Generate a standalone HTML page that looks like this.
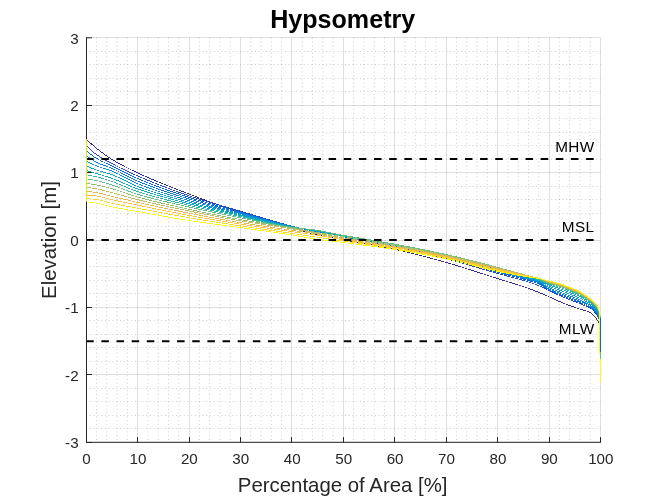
<!DOCTYPE html>
<html lang="en"><head><meta charset="utf-8"><title>Hypsometry</title>
<style>
html,body{margin:0;padding:0;background:#fff;}
body{width:663px;height:497px;overflow:hidden;position:relative;font-family:"Liberation Sans",Arial,sans-serif;}
svg{display:block}
</style></head><body>
<svg width="663" height="497" viewBox="0 0 663 497" style="position:absolute;left:0;top:0">
<rect width="663" height="497" fill="#fff"/>
<g stroke="#262626" stroke-opacity="0.22" stroke-width="1" stroke-dasharray="1 2.75" fill="none"><line x1="96.49" y1="37.70" x2="96.49" y2="442.30"/><line x1="106.77" y1="37.70" x2="106.77" y2="442.30"/><line x1="117.06" y1="37.70" x2="117.06" y2="442.30"/><line x1="127.34" y1="37.70" x2="127.34" y2="442.30"/><line x1="147.92" y1="37.70" x2="147.92" y2="442.30"/><line x1="158.20" y1="37.70" x2="158.20" y2="442.30"/><line x1="168.49" y1="37.70" x2="168.49" y2="442.30"/><line x1="178.77" y1="37.70" x2="178.77" y2="442.30"/><line x1="199.35" y1="37.70" x2="199.35" y2="442.30"/><line x1="209.63" y1="37.70" x2="209.63" y2="442.30"/><line x1="219.92" y1="37.70" x2="219.92" y2="442.30"/><line x1="230.20" y1="37.70" x2="230.20" y2="442.30"/><line x1="250.78" y1="37.70" x2="250.78" y2="442.30"/><line x1="261.06" y1="37.70" x2="261.06" y2="442.30"/><line x1="271.35" y1="37.70" x2="271.35" y2="442.30"/><line x1="281.63" y1="37.70" x2="281.63" y2="442.30"/><line x1="302.21" y1="37.70" x2="302.21" y2="442.30"/><line x1="312.49" y1="37.70" x2="312.49" y2="442.30"/><line x1="322.78" y1="37.70" x2="322.78" y2="442.30"/><line x1="333.06" y1="37.70" x2="333.06" y2="442.30"/><line x1="353.64" y1="37.70" x2="353.64" y2="442.30"/><line x1="363.92" y1="37.70" x2="363.92" y2="442.30"/><line x1="374.21" y1="37.70" x2="374.21" y2="442.30"/><line x1="384.49" y1="37.70" x2="384.49" y2="442.30"/><line x1="405.07" y1="37.70" x2="405.07" y2="442.30"/><line x1="415.35" y1="37.70" x2="415.35" y2="442.30"/><line x1="425.64" y1="37.70" x2="425.64" y2="442.30"/><line x1="435.92" y1="37.70" x2="435.92" y2="442.30"/><line x1="456.50" y1="37.70" x2="456.50" y2="442.30"/><line x1="466.78" y1="37.70" x2="466.78" y2="442.30"/><line x1="477.07" y1="37.70" x2="477.07" y2="442.30"/><line x1="487.35" y1="37.70" x2="487.35" y2="442.30"/><line x1="507.93" y1="37.70" x2="507.93" y2="442.30"/><line x1="518.21" y1="37.70" x2="518.21" y2="442.30"/><line x1="528.50" y1="37.70" x2="528.50" y2="442.30"/><line x1="538.78" y1="37.70" x2="538.78" y2="442.30"/><line x1="559.36" y1="37.70" x2="559.36" y2="442.30"/><line x1="569.64" y1="37.70" x2="569.64" y2="442.30"/><line x1="579.93" y1="37.70" x2="579.93" y2="442.30"/><line x1="590.21" y1="37.70" x2="590.21" y2="442.30"/><line x1="86.20" y1="51.50" x2="600.50" y2="51.50"/><line x1="86.20" y1="64.50" x2="600.50" y2="64.50"/><line x1="86.20" y1="78.50" x2="600.50" y2="78.50"/><line x1="86.20" y1="91.50" x2="600.50" y2="91.50"/><line x1="86.20" y1="118.50" x2="600.50" y2="118.50"/><line x1="86.20" y1="132.50" x2="600.50" y2="132.50"/><line x1="86.20" y1="145.50" x2="600.50" y2="145.50"/><line x1="86.20" y1="159.50" x2="600.50" y2="159.50"/><line x1="86.20" y1="186.50" x2="600.50" y2="186.50"/><line x1="86.20" y1="199.50" x2="600.50" y2="199.50"/><line x1="86.20" y1="213.50" x2="600.50" y2="213.50"/><line x1="86.20" y1="226.50" x2="600.50" y2="226.50"/><line x1="86.20" y1="253.50" x2="600.50" y2="253.50"/><line x1="86.20" y1="266.50" x2="600.50" y2="266.50"/><line x1="86.20" y1="280.50" x2="600.50" y2="280.50"/><line x1="86.20" y1="293.50" x2="600.50" y2="293.50"/><line x1="86.20" y1="320.50" x2="600.50" y2="320.50"/><line x1="86.20" y1="334.50" x2="600.50" y2="334.50"/><line x1="86.20" y1="347.50" x2="600.50" y2="347.50"/><line x1="86.20" y1="361.50" x2="600.50" y2="361.50"/><line x1="86.20" y1="388.50" x2="600.50" y2="388.50"/><line x1="86.20" y1="401.50" x2="600.50" y2="401.50"/><line x1="86.20" y1="415.50" x2="600.50" y2="415.50"/><line x1="86.20" y1="428.50" x2="600.50" y2="428.50"/></g>
<g stroke="#262626" stroke-opacity="0.15" stroke-width="1" fill="none"><line x1="86.50" y1="37.70" x2="86.50" y2="442.30"/><line x1="137.50" y1="37.70" x2="137.50" y2="442.30"/><line x1="189.50" y1="37.70" x2="189.50" y2="442.30"/><line x1="240.50" y1="37.70" x2="240.50" y2="442.30"/><line x1="291.50" y1="37.70" x2="291.50" y2="442.30"/><line x1="343.50" y1="37.70" x2="343.50" y2="442.30"/><line x1="394.50" y1="37.70" x2="394.50" y2="442.30"/><line x1="446.50" y1="37.70" x2="446.50" y2="442.30"/><line x1="497.50" y1="37.70" x2="497.50" y2="442.30"/><line x1="549.50" y1="37.70" x2="549.50" y2="442.30"/><line x1="600.50" y1="37.70" x2="600.50" y2="442.30"/><line x1="86.20" y1="442.50" x2="600.50" y2="442.50"/><line x1="86.20" y1="374.50" x2="600.50" y2="374.50"/><line x1="86.20" y1="307.50" x2="600.50" y2="307.50"/><line x1="86.20" y1="240.50" x2="600.50" y2="240.50"/><line x1="86.20" y1="172.50" x2="600.50" y2="172.50"/><line x1="86.20" y1="105.50" x2="600.50" y2="105.50"/><line x1="86.20" y1="37.50" x2="600.50" y2="37.50"/></g>
<g stroke="none" shape-rendering="crispEdges"><path d="M85.93 139.50 L87.93 141.30 L89.93 143.13 L91.93 144.95 L93.94 146.71 L95.95 148.37 L97.95 149.96 L99.96 151.51 L101.96 153.02 L103.97 154.49 L105.97 155.91 L107.98 157.29 L109.98 158.60 L111.99 159.86 L114.00 161.08 L116.00 162.25 L118.00 163.40 L120.01 164.51 L122.01 165.60 L124.01 166.66 L126.02 167.69 L128.02 168.71 L130.02 169.70 L132.03 170.68 L134.03 171.64 L136.03 172.59 L138.03 173.53 L140.03 174.45 L142.03 175.37 L144.04 176.27 L146.04 177.16 L148.04 178.03 L150.04 178.90 L152.04 179.76 L154.04 180.60 L156.05 181.44 L158.05 182.27 L160.05 183.09 L162.05 183.90 L164.05 184.71 L166.05 185.51 L168.05 186.30 L170.05 187.09 L172.05 187.87 L174.06 188.65 L176.06 189.43 L178.06 190.20 L180.06 190.97 L182.06 191.74 L184.06 192.51 L186.06 193.28 L188.06 194.04 L190.06 194.81 L192.06 195.57 L194.06 196.33 L196.06 197.09 L198.06 197.85 L200.06 198.60 L202.06 199.35 L204.06 200.09 L206.06 200.83 L208.06 201.57 L210.06 202.30 L212.06 203.03 L214.06 203.76 L216.06 204.48 L218.07 205.20 L220.07 205.91 L222.07 206.62 L224.07 207.32 L226.07 208.02 L228.07 208.72 L230.07 209.41 L232.07 210.09 L234.07 210.77 L236.07 211.45 L238.07 212.12 L240.07 212.78 L242.08 213.44 L244.08 214.10 L246.08 214.75 L248.08 215.39 L250.08 216.03 L252.08 216.67 L254.08 217.30 L256.08 217.93 L258.08 218.56 L260.08 219.18 L262.08 219.80 L264.08 220.41 L266.08 221.02 L268.08 221.63 L270.08 222.23 L272.09 222.83 L274.09 223.42 L276.09 224.02 L278.09 224.61 L280.09 225.20 L282.09 225.78 L284.09 226.36 L286.09 226.94 L288.09 227.52 L290.09 228.09 L292.09 228.66 L294.09 229.24 L296.09 229.81 L298.09 230.39 L300.09 230.96 L302.09 231.52 L304.09 232.08 L306.10 232.62 L308.10 233.14 L310.10 233.64 L312.11 234.12 L314.11 234.58 L316.11 235.02 L318.12 235.45 L320.12 235.87 L322.12 236.28 L324.12 236.68 L326.12 237.07 L328.13 237.45 L330.13 237.83 L332.13 238.21 L334.13 238.58 L336.13 238.95 L338.13 239.32 L340.13 239.70 L342.13 240.07 L344.13 240.45 L346.13 240.83 L348.13 241.20 L350.13 241.56 L352.13 241.92 L354.13 242.27 L356.13 242.62 L358.13 242.97 L360.13 243.32 L362.13 243.66 L364.13 244.01 L366.13 244.35 L368.13 244.70 L370.13 245.04 L372.13 245.39 L374.13 245.74 L376.13 246.10 L378.13 246.46 L380.13 246.82 L382.13 247.19 L384.13 247.57 L386.12 247.95 L388.12 248.34 L390.12 248.74 L392.12 249.15 L394.12 249.57 L396.12 250.00 L398.11 250.43 L400.11 250.88 L402.11 251.34 L404.11 251.80 L406.11 252.27 L408.11 252.75 L410.10 253.24 L412.10 253.73 L414.10 254.23 L416.10 254.74 L418.10 255.25 L420.10 255.77 L422.10 256.29 L424.10 256.82 L426.10 257.36 L428.10 257.89 L430.09 258.44 L432.09 258.98 L434.09 259.53 L436.09 260.08 L438.09 260.64 L440.09 261.20 L442.09 261.76 L444.09 262.32 L446.09 262.88 L448.09 263.45 L450.09 264.03 L452.09 264.61 L454.09 265.21 L456.08 265.81 L458.08 266.41 L460.08 267.03 L462.08 267.64 L464.08 268.27 L466.08 268.90 L468.08 269.53 L470.08 270.16 L472.08 270.80 L474.08 271.45 L476.08 272.09 L478.08 272.74 L480.08 273.38 L482.08 274.03 L484.08 274.67 L486.08 275.32 L488.08 275.97 L490.08 276.61 L492.08 277.25 L494.08 277.89 L496.08 278.53 L498.08 279.16 L500.08 279.78 L502.08 280.40 L504.08 281.02 L506.08 281.63 L508.08 282.24 L510.08 282.85 L512.08 283.46 L514.08 284.08 L516.08 284.70 L518.08 285.33 L520.08 285.97 L522.07 286.63 L524.07 287.29 L526.07 287.97 L528.07 288.67 L530.06 289.39 L532.06 290.15 L534.05 290.93 L536.05 291.73 L538.05 292.53 L540.05 293.35 L542.05 294.17 L544.04 295.00 L546.04 295.85 L548.04 296.73 L550.03 297.63 L552.02 298.62 L554.03 299.62 L556.04 300.55 L558.05 301.38 L560.05 302.16 L562.05 302.95 L564.04 303.80 L566.05 304.66 L568.06 305.45 L570.07 306.14 L572.08 306.78 L574.07 307.45 L576.06 308.19 L578.06 308.96 L580.08 309.64 L582.10 310.17 L584.10 310.66 L586.06 311.25 L588.03 312.08 L589.82 312.96 L590.22 313.16 L590.62 313.35 L591.01 313.55 L591.39 313.77 L591.76 314.02 L592.14 314.32 L592.52 314.68 L592.90 315.09 L593.29 315.55 L593.69 316.02 L594.09 316.52 L594.49 317.01 L594.89 317.49 L595.29 317.98 L595.68 318.48 L596.08 319.00 L596.47 319.55 L596.87 320.12 L597.26 320.75 L597.66 321.40 L598.07 322.02 L598.47 322.57 L598.84 323.18 L599.25 324.16 L600.07 325.40 L600.73 324.95 L599.95 323.79 L599.56 322.82 L599.13 322.12 L598.73 321.56 L598.34 320.97 L597.94 320.32 L597.53 319.68 L597.13 319.08 L596.72 318.53 L596.32 317.99 L595.91 317.48 L595.51 316.99 L595.11 316.50 L594.71 316.01 L594.31 315.52 L593.91 315.03 L593.50 314.56 L593.08 314.12 L592.66 313.72 L592.24 313.38 L591.81 313.09 L591.39 312.85 L590.98 312.64 L590.58 312.44 L590.18 312.24 L588.37 311.35 L586.34 310.49 L584.30 309.88 L582.30 309.40 L580.32 308.88 L578.34 308.21 L576.34 307.45 L574.33 306.69 L572.32 306.02 L570.33 305.38 L568.34 304.70 L566.35 303.92 L564.36 303.06 L562.35 302.21 L560.35 301.41 L558.35 300.64 L556.36 299.82 L554.37 298.90 L552.38 297.90 L550.37 296.91 L548.36 295.99 L546.36 295.12 L544.36 294.26 L542.35 293.43 L540.35 292.61 L538.35 291.79 L536.35 290.98 L534.35 290.18 L532.34 289.40 L530.34 288.64 L528.33 287.92 L526.33 287.22 L524.33 286.53 L522.33 285.87 L520.32 285.21 L518.32 284.57 L516.32 283.94 L514.32 283.31 L512.32 282.70 L510.32 282.08 L508.32 281.47 L506.32 280.86 L504.32 280.25 L502.32 279.64 L500.32 279.02 L498.32 278.39 L496.32 277.76 L494.32 277.13 L492.32 276.49 L490.32 275.85 L488.32 275.20 L486.32 274.56 L484.32 273.91 L482.32 273.27 L480.32 272.62 L478.32 271.97 L476.32 271.33 L474.32 270.68 L472.32 270.04 L470.32 269.40 L468.32 268.77 L466.32 268.13 L464.32 267.50 L462.32 266.88 L460.32 266.26 L458.32 265.65 L456.32 265.04 L454.31 264.44 L452.31 263.85 L450.31 263.26 L448.31 262.68 L446.31 262.11 L444.31 261.55 L442.31 260.99 L440.31 260.43 L438.31 259.87 L436.31 259.31 L434.31 258.76 L432.31 258.21 L430.31 257.66 L428.30 257.12 L426.30 256.58 L424.30 256.05 L422.30 255.52 L420.30 255.00 L418.30 254.48 L416.30 253.96 L414.30 253.46 L412.30 252.95 L410.30 252.46 L408.29 251.97 L406.29 251.49 L404.29 251.02 L402.29 250.56 L400.29 250.10 L398.29 249.65 L396.28 249.21 L394.28 248.79 L392.28 248.37 L390.28 247.96 L388.28 247.56 L386.28 247.17 L384.27 246.78 L382.27 246.40 L380.27 246.03 L378.27 245.67 L376.27 245.31 L374.27 244.96 L372.27 244.60 L370.27 244.26 L368.27 243.91 L366.27 243.56 L364.27 243.22 L362.27 242.88 L360.27 242.53 L358.27 242.18 L356.27 241.84 L354.27 241.49 L352.27 241.13 L350.27 240.77 L348.27 240.41 L346.27 240.04 L344.27 239.67 L342.27 239.29 L340.27 238.91 L338.27 238.54 L336.27 238.17 L334.27 237.79 L332.27 237.42 L330.27 237.05 L328.27 236.67 L326.28 236.28 L324.28 235.89 L322.28 235.50 L320.28 235.09 L318.28 234.67 L316.29 234.24 L314.29 233.80 L312.29 233.34 L310.30 232.86 L308.30 232.36 L306.30 231.84 L304.31 231.30 L302.31 230.75 L300.31 230.19 L298.31 229.62 L296.31 229.04 L294.31 228.47 L292.31 227.90 L290.31 227.32 L288.31 226.75 L286.31 226.17 L284.31 225.59 L282.31 225.01 L280.31 224.43 L278.31 223.84 L276.31 223.25 L274.31 222.66 L272.31 222.06 L270.32 221.46 L268.32 220.86 L266.32 220.25 L264.32 219.64 L262.32 219.03 L260.32 218.41 L258.32 217.79 L256.32 217.17 L254.32 216.54 L252.32 215.91 L250.32 215.27 L248.32 214.63 L246.32 213.99 L244.32 213.34 L242.32 212.68 L240.33 212.02 L238.33 211.36 L236.33 210.69 L234.33 210.02 L232.33 209.34 L230.33 208.65 L228.33 207.96 L226.33 207.27 L224.33 206.57 L222.33 205.87 L220.33 205.16 L218.33 204.45 L216.34 203.73 L214.34 203.01 L212.34 202.28 L210.34 201.55 L208.34 200.82 L206.34 200.08 L204.34 199.34 L202.34 198.60 L200.34 197.85 L198.34 197.10 L196.34 196.34 L194.34 195.59 L192.34 194.83 L190.34 194.06 L188.34 193.30 L186.34 192.53 L184.34 191.76 L182.34 191.00 L180.34 190.23 L178.34 189.46 L176.34 188.68 L174.34 187.91 L172.35 187.13 L170.35 186.35 L168.35 185.56 L166.35 184.76 L164.35 183.97 L162.35 183.16 L160.35 182.35 L158.35 181.53 L156.35 180.70 L154.36 179.86 L152.36 179.02 L150.36 178.16 L148.36 177.30 L146.36 176.42 L144.36 175.54 L142.37 174.64 L140.37 173.73 L138.37 172.80 L136.37 171.87 L134.37 170.92 L132.37 169.96 L130.38 168.98 L128.38 167.99 L126.38 166.98 L124.39 165.95 L122.39 164.89 L120.39 163.81 L118.40 162.70 L116.40 161.56 L114.40 160.39 L112.41 159.18 L110.42 157.93 L108.42 156.62 L106.43 155.26 L104.43 153.84 L102.44 152.38 L100.44 150.87 L98.45 149.33 L96.45 147.75 L94.46 146.10 L92.47 144.35 L90.47 142.54 L88.47 140.71 L86.47 138.90Z" fill="#352a87"/><path d="M85.80 139.20 L85.80 145.47 L87.92 147.47 L89.92 149.40 L91.93 151.30 L93.94 153.09 L95.96 154.67 L97.98 156.07 L99.99 157.37 L102.00 158.59 L104.00 159.75 L106.01 160.86 L108.01 161.94 L110.01 163.00 L112.01 164.06 L114.01 165.11 L116.02 166.15 L118.02 167.17 L120.02 168.18 L122.02 169.16 L124.03 170.13 L126.03 171.09 L128.03 172.03 L130.03 172.95 L132.04 173.86 L134.04 174.76 L136.04 175.64 L138.04 176.51 L140.04 177.38 L142.04 178.23 L144.04 179.08 L146.05 179.92 L148.05 180.76 L150.05 181.58 L152.05 182.40 L154.05 183.22 L156.05 184.02 L158.05 184.82 L160.05 185.61 L162.05 186.39 L164.06 187.17 L166.06 187.94 L168.06 188.70 L170.06 189.45 L172.06 190.20 L174.06 190.94 L176.06 191.67 L178.06 192.39 L180.07 193.11 L182.07 193.81 L184.07 194.51 L186.07 195.20 L188.07 195.89 L190.07 196.56 L192.07 197.23 L194.08 197.88 L196.08 198.53 L198.08 199.16 L200.08 199.79 L202.08 200.41 L204.08 201.02 L206.08 201.63 L208.09 202.22 L210.09 202.82 L212.09 203.41 L214.09 203.99 L216.09 204.58 L218.09 205.15 L220.09 205.73 L222.09 206.31 L224.09 206.88 L226.09 207.45 L228.09 208.02 L230.09 208.60 L232.09 209.17 L234.09 209.75 L236.09 210.33 L238.09 210.91 L240.09 211.50 L242.09 212.09 L244.09 212.68 L246.09 213.28 L248.09 213.88 L250.08 214.48 L252.08 215.08 L254.08 215.68 L256.08 216.29 L258.08 216.89 L260.08 217.49 L262.09 218.09 L264.09 218.69 L266.09 219.29 L268.09 219.88 L270.09 220.47 L272.09 221.06 L274.09 221.64 L276.09 222.21 L278.09 222.78 L280.09 223.35 L282.09 223.90 L284.09 224.45 L286.10 224.99 L288.10 225.52 L290.10 226.05 L292.10 226.56 L294.10 227.06 L296.10 227.56 L298.11 228.05 L300.11 228.53 L302.11 229.00 L304.11 229.46 L306.11 229.92 L308.11 230.36 L310.12 230.80 L312.12 231.23 L314.12 231.65 L316.12 232.06 L318.12 232.46 L320.12 232.86 L322.12 233.24 L324.13 233.62 L326.13 234.00 L328.13 234.37 L330.13 234.75 L332.13 235.12 L334.13 235.48 L336.13 235.85 L338.13 236.22 L340.13 236.60 L342.13 236.97 L344.13 237.35 L346.13 237.73 L348.13 238.11 L350.13 238.48 L352.13 238.86 L354.13 239.23 L356.13 239.60 L358.13 239.96 L360.13 240.33 L362.13 240.70 L364.13 241.07 L366.13 241.44 L368.13 241.81 L370.13 242.18 L372.13 242.55 L374.13 242.93 L376.13 243.30 L378.12 243.68 L380.12 244.07 L382.12 244.45 L384.12 244.84 L386.12 245.24 L388.12 245.64 L390.12 246.04 L392.12 246.45 L394.12 246.87 L396.12 247.29 L398.12 247.72 L400.12 248.15 L402.11 248.58 L404.11 249.02 L406.11 249.46 L408.11 249.91 L410.11 250.35 L412.11 250.81 L414.11 251.27 L416.11 251.73 L418.11 252.19 L420.11 252.66 L422.11 253.13 L424.11 253.61 L426.11 254.09 L428.11 254.57 L430.10 255.06 L432.10 255.55 L434.10 256.04 L436.10 256.54 L438.10 257.04 L440.10 257.55 L442.10 258.06 L444.10 258.57 L446.10 259.08 L448.10 259.61 L450.10 260.14 L452.09 260.68 L454.09 261.23 L456.09 261.78 L458.09 262.35 L460.09 262.92 L462.09 263.49 L464.09 264.07 L466.09 264.65 L468.09 265.24 L470.09 265.83 L472.09 266.42 L474.09 267.02 L476.09 267.61 L478.09 268.21 L480.09 268.80 L482.09 269.40 L484.09 269.99 L486.09 270.58 L488.09 271.17 L490.09 271.75 L492.09 272.33 L494.09 272.91 L496.09 273.48 L498.09 274.04 L500.09 274.59 L502.10 275.14 L504.10 275.67 L506.10 276.19 L508.10 276.72 L510.10 277.24 L512.10 277.76 L514.10 278.29 L516.10 278.82 L518.09 279.36 L520.09 279.92 L522.09 280.48 L524.09 281.06 L526.08 281.66 L528.08 282.29 L530.07 282.93 L532.07 283.60 L534.06 284.30 L536.06 285.04 L538.05 285.83 L540.04 286.68 L542.02 287.62 L544.02 288.63 L546.02 289.66 L548.02 290.67 L550.03 291.64 L552.03 292.60 L554.03 293.55 L556.04 294.45 L558.05 295.31 L560.05 296.13 L562.05 296.95 L564.04 297.79 L566.05 298.63 L568.05 299.45 L570.06 300.23 L572.06 300.99 L574.06 301.75 L576.06 302.51 L578.06 303.26 L580.05 304.05 L582.04 304.88 L584.04 305.75 L586.03 306.66 L588.02 307.63 L589.82 308.56 L590.22 308.76 L590.62 308.96 L591.01 309.16 L591.39 309.38 L591.77 309.63 L592.14 309.92 L592.52 310.27 L592.91 310.66 L593.30 311.09 L593.69 311.55 L594.09 312.03 L594.49 312.51 L594.89 312.99 L595.29 313.48 L595.68 313.99 L596.07 314.53 L596.46 315.10 L596.85 315.73 L597.25 316.45 L597.64 317.25 L598.04 318.09 L598.43 318.98 L598.81 320.11 L599.22 322.09 L600.07 323.35 L600.73 322.91 L599.98 321.77 L599.59 319.89 L599.17 318.69 L598.76 317.76 L598.36 316.90 L597.95 316.08 L597.55 315.33 L597.14 314.67 L596.73 314.07 L596.32 313.51 L595.91 312.98 L595.51 312.49 L595.11 312.00 L594.71 311.52 L594.31 311.04 L593.90 310.56 L593.49 310.11 L593.08 309.69 L592.66 309.31 L592.23 308.97 L591.81 308.70 L591.39 308.46 L590.98 308.25 L590.58 308.05 L590.18 307.84 L588.38 306.91 L586.37 305.93 L584.36 305.02 L582.36 304.14 L580.35 303.31 L578.34 302.52 L576.34 301.76 L574.34 301.00 L572.34 300.24 L570.34 299.48 L568.35 298.71 L566.35 297.90 L564.36 297.06 L562.35 296.21 L560.35 295.39 L558.35 294.57 L556.36 293.72 L554.37 292.82 L552.37 291.88 L550.37 290.92 L548.38 289.96 L546.38 288.94 L544.38 287.91 L542.38 286.90 L540.36 285.95 L538.35 285.09 L536.34 284.30 L534.34 283.55 L532.33 282.85 L530.33 282.17 L528.32 281.52 L526.32 280.90 L524.31 280.30 L522.31 279.71 L520.31 279.14 L518.31 278.59 L516.30 278.05 L514.30 277.51 L512.30 276.99 L510.30 276.46 L508.30 275.94 L506.30 275.42 L504.30 274.89 L502.30 274.36 L500.31 273.82 L498.31 273.27 L496.31 272.71 L494.31 272.14 L492.31 271.56 L490.31 270.99 L488.31 270.40 L486.31 269.81 L484.31 269.22 L482.31 268.63 L480.31 268.04 L478.31 267.44 L476.31 266.85 L474.31 266.25 L472.31 265.66 L470.31 265.06 L468.31 264.47 L466.31 263.89 L464.31 263.30 L462.31 262.72 L460.31 262.15 L458.31 261.58 L456.31 261.01 L454.31 260.46 L452.31 259.91 L450.30 259.37 L448.30 258.83 L446.30 258.31 L444.30 257.79 L442.30 257.28 L440.30 256.77 L438.30 256.27 L436.30 255.76 L434.30 255.27 L432.30 254.77 L430.30 254.28 L428.29 253.79 L426.29 253.31 L424.29 252.83 L422.29 252.35 L420.29 251.88 L418.29 251.41 L416.29 250.95 L414.29 250.49 L412.29 250.03 L410.29 249.57 L408.29 249.12 L406.29 248.68 L404.29 248.24 L402.29 247.80 L400.28 247.36 L398.28 246.93 L396.28 246.51 L394.28 246.09 L392.28 245.67 L390.28 245.26 L388.28 244.85 L386.28 244.45 L384.28 244.06 L382.28 243.67 L380.28 243.28 L378.28 242.90 L376.27 242.52 L374.27 242.14 L372.27 241.76 L370.27 241.39 L368.27 241.02 L366.27 240.65 L364.27 240.28 L362.27 239.91 L360.27 239.55 L358.27 239.18 L356.27 238.81 L354.27 238.44 L352.27 238.07 L350.27 237.70 L348.27 237.32 L346.27 236.95 L344.27 236.57 L342.27 236.19 L340.27 235.81 L338.27 235.44 L336.27 235.07 L334.27 234.70 L332.27 234.33 L330.27 233.96 L328.27 233.59 L326.27 233.22 L324.27 232.84 L322.28 232.46 L320.28 232.07 L318.28 231.68 L316.28 231.28 L314.28 230.87 L312.28 230.45 L310.28 230.02 L308.29 229.58 L306.29 229.14 L304.29 228.68 L302.29 228.22 L300.29 227.75 L298.29 227.27 L296.30 226.78 L294.30 226.29 L292.30 225.78 L290.30 225.27 L288.30 224.75 L286.30 224.22 L284.31 223.68 L282.31 223.13 L280.31 222.57 L278.31 222.01 L276.31 221.44 L274.31 220.87 L272.31 220.29 L270.31 219.70 L268.31 219.11 L266.31 218.52 L264.31 217.93 L262.31 217.33 L260.32 216.73 L258.32 216.12 L256.32 215.52 L254.32 214.92 L252.32 214.32 L250.32 213.71 L248.31 213.11 L246.31 212.51 L244.31 211.92 L242.31 211.32 L240.31 210.73 L238.31 210.14 L236.31 209.56 L234.31 208.98 L232.31 208.40 L230.31 207.83 L228.31 207.26 L226.31 206.68 L224.31 206.11 L222.31 205.54 L220.31 204.96 L218.31 204.39 L216.31 203.81 L214.31 203.23 L212.31 202.64 L210.31 202.05 L208.31 201.46 L206.32 200.86 L204.32 200.25 L202.32 199.64 L200.32 199.02 L198.32 198.40 L196.32 197.76 L194.32 197.12 L192.33 196.47 L190.33 195.80 L188.33 195.13 L186.33 194.45 L184.33 193.76 L182.33 193.06 L180.33 192.35 L178.34 191.64 L176.34 190.92 L174.34 190.19 L172.34 189.45 L170.34 188.71 L168.34 187.95 L166.34 187.19 L164.34 186.42 L162.35 185.65 L160.35 184.87 L158.35 184.08 L156.35 183.28 L154.35 182.47 L152.35 181.66 L150.35 180.84 L148.35 180.02 L146.35 179.18 L144.36 178.34 L142.36 177.50 L140.36 176.64 L138.36 175.78 L136.36 174.91 L134.36 174.03 L132.36 173.13 L130.37 172.22 L128.37 171.30 L126.37 170.36 L124.37 169.41 L122.38 168.44 L120.38 167.46 L118.38 166.46 L116.38 165.44 L114.39 164.41 L112.39 163.35 L110.39 162.29 L108.39 161.23 L106.39 160.16 L104.40 159.05 L102.40 157.90 L100.41 156.69 L98.42 155.40 L96.44 154.02 L94.46 152.48 L92.47 150.71 L90.48 148.82 L88.48 146.89 L86.60 145.13 L86.60 139.20Z" fill="#2f47c0"/><path d="M85.80 139.20 L85.80 151.10 L87.96 152.73 L89.96 154.29 L91.96 155.82 L93.98 157.27 L95.99 158.56 L98.01 159.71 L100.02 160.77 L102.03 161.77 L104.03 162.72 L106.03 163.65 L108.03 164.57 L110.03 165.50 L112.02 166.46 L114.02 167.45 L116.02 168.45 L118.02 169.46 L120.02 170.48 L122.02 171.49 L124.02 172.51 L126.02 173.51 L128.02 174.50 L130.03 175.47 L132.03 176.43 L134.03 177.35 L136.04 178.25 L138.04 179.11 L140.05 179.95 L142.05 180.79 L144.05 181.61 L146.05 182.42 L148.05 183.23 L150.05 184.02 L152.05 184.80 L154.06 185.58 L156.06 186.34 L158.06 187.10 L160.06 187.85 L162.06 188.58 L164.06 189.32 L166.06 190.04 L168.07 190.75 L170.07 191.46 L172.07 192.16 L174.07 192.85 L176.07 193.53 L178.07 194.21 L180.07 194.88 L182.07 195.55 L184.08 196.21 L186.08 196.86 L188.08 197.50 L190.08 198.14 L192.08 198.77 L194.08 199.40 L196.08 200.01 L198.09 200.61 L200.09 201.20 L202.09 201.79 L204.09 202.37 L206.09 202.94 L208.09 203.51 L210.09 204.07 L212.09 204.63 L214.09 205.19 L216.09 205.74 L218.09 206.29 L220.09 206.83 L222.10 207.38 L224.10 207.92 L226.10 208.46 L228.10 209.01 L230.09 209.55 L232.09 210.10 L234.09 210.64 L236.09 211.19 L238.09 211.75 L240.09 212.30 L242.09 212.87 L244.09 213.43 L246.09 214.00 L248.09 214.57 L250.09 215.14 L252.09 215.71 L254.09 216.29 L256.09 216.86 L258.09 217.43 L260.09 218.01 L262.09 218.58 L264.09 219.15 L266.09 219.72 L268.09 220.28 L270.09 220.85 L272.09 221.40 L274.09 221.96 L276.09 222.51 L278.10 223.05 L280.10 223.59 L282.10 224.12 L284.10 224.64 L286.10 225.16 L288.10 225.67 L290.10 226.17 L292.11 226.66 L294.11 227.14 L296.11 227.61 L298.11 228.08 L300.11 228.53 L302.11 228.98 L304.11 229.42 L306.12 229.86 L308.12 230.29 L310.12 230.71 L312.12 231.13 L314.12 231.54 L316.12 231.95 L318.12 232.35 L320.12 232.74 L322.12 233.13 L324.13 233.51 L326.13 233.89 L328.13 234.27 L330.13 234.64 L332.13 235.01 L334.13 235.38 L336.13 235.76 L338.13 236.13 L340.13 236.50 L342.13 236.88 L344.13 237.25 L346.13 237.63 L348.13 238.00 L350.13 238.37 L352.13 238.74 L354.13 239.10 L356.13 239.47 L358.13 239.83 L360.13 240.19 L362.13 240.55 L364.13 240.91 L366.13 241.27 L368.13 241.63 L370.13 242.00 L372.13 242.36 L374.13 242.73 L376.13 243.10 L378.13 243.47 L380.13 243.84 L382.13 244.22 L384.12 244.60 L386.12 244.98 L388.12 245.37 L390.12 245.77 L392.12 246.17 L394.12 246.57 L396.12 246.98 L398.12 247.40 L400.12 247.82 L402.12 248.24 L404.12 248.66 L406.12 249.09 L408.12 249.52 L410.11 249.96 L412.11 250.39 L414.11 250.84 L416.11 251.28 L418.11 251.73 L420.11 252.18 L422.11 252.64 L424.11 253.10 L426.11 253.56 L428.11 254.03 L430.11 254.50 L432.11 254.97 L434.11 255.45 L436.11 255.93 L438.11 256.41 L440.10 256.90 L442.10 257.39 L444.10 257.89 L446.10 258.39 L448.10 258.89 L450.10 259.40 L452.10 259.93 L454.10 260.45 L456.10 260.99 L458.09 261.53 L460.09 262.08 L462.09 262.64 L464.09 263.20 L466.09 263.76 L468.09 264.33 L470.09 264.89 L472.09 265.47 L474.09 266.04 L476.09 266.61 L478.09 267.19 L480.09 267.76 L482.09 268.34 L484.09 268.91 L486.09 269.48 L488.09 270.05 L490.09 270.62 L492.09 271.18 L494.09 271.74 L496.09 272.29 L498.10 272.84 L500.10 273.38 L502.10 273.91 L504.10 274.44 L506.10 274.96 L508.10 275.48 L510.10 276.00 L512.10 276.52 L514.10 277.04 L516.10 277.57 L518.10 278.10 L520.10 278.64 L522.09 279.18 L524.09 279.74 L526.09 280.31 L528.09 280.90 L530.09 281.48 L532.09 282.06 L534.08 282.66 L536.07 283.31 L538.05 284.04 L540.02 284.91 L542.00 286.00 L543.99 287.23 L545.99 288.49 L548.01 289.68 L550.02 290.72 L552.04 291.65 L554.04 292.53 L556.05 293.38 L558.05 294.21 L560.05 295.01 L562.05 295.81 L564.05 296.64 L566.05 297.47 L568.05 298.28 L570.06 299.05 L572.06 299.81 L574.06 300.58 L576.06 301.34 L578.05 302.10 L580.04 302.92 L582.04 303.78 L584.03 304.70 L586.02 305.66 L588.01 306.68 L589.81 307.65 L590.21 307.86 L590.61 308.07 L591.00 308.29 L591.39 308.51 L591.76 308.77 L592.14 309.07 L592.52 309.41 L592.91 309.80 L593.30 310.22 L593.70 310.67 L594.10 311.14 L594.49 311.61 L594.89 312.08 L595.29 312.56 L595.68 313.07 L596.07 313.60 L596.47 314.17 L596.86 314.79 L597.25 315.49 L597.64 316.27 L598.03 317.13 L598.42 318.06 L598.81 319.25 L599.22 321.36 L600.07 322.63 L600.73 322.18 L599.98 321.05 L599.59 319.05 L599.18 317.78 L598.77 316.81 L598.36 315.93 L597.95 315.12 L597.54 314.38 L597.13 313.73 L596.73 313.13 L596.32 312.58 L595.91 312.06 L595.51 311.57 L595.11 311.09 L594.70 310.62 L594.30 310.15 L593.90 309.69 L593.49 309.25 L593.08 308.83 L592.66 308.46 L592.24 308.12 L591.81 307.84 L591.40 307.59 L590.99 307.37 L590.59 307.16 L590.19 306.95 L588.39 305.97 L586.38 304.94 L584.37 303.98 L582.36 303.05 L580.36 302.18 L578.35 301.36 L576.34 300.59 L574.34 299.83 L572.34 299.06 L570.34 298.30 L568.35 297.53 L566.35 296.73 L564.35 295.90 L562.35 295.07 L560.35 294.27 L558.35 293.47 L556.35 292.64 L554.36 291.79 L552.36 290.92 L550.38 290.00 L548.39 288.98 L546.41 287.81 L544.41 286.55 L542.40 285.31 L540.38 284.19 L538.35 283.29 L536.33 282.55 L534.32 281.89 L532.31 281.29 L530.31 280.71 L528.31 280.13 L526.31 279.54 L524.31 278.97 L522.31 278.41 L520.30 277.86 L518.30 277.33 L516.30 276.79 L514.30 276.27 L512.30 275.74 L510.30 275.22 L508.30 274.71 L506.30 274.19 L504.30 273.66 L502.30 273.14 L500.30 272.61 L498.30 272.07 L496.31 271.52 L494.31 270.97 L492.31 270.41 L490.31 269.85 L488.31 269.28 L486.31 268.71 L484.31 268.14 L482.31 267.57 L480.31 267.00 L478.31 266.42 L476.31 265.85 L474.31 265.27 L472.31 264.70 L470.31 264.13 L468.31 263.56 L466.31 262.99 L464.31 262.43 L462.31 261.87 L460.31 261.31 L458.31 260.76 L456.30 260.22 L454.30 259.68 L452.30 259.15 L450.30 258.63 L448.30 258.11 L446.30 257.61 L444.30 257.11 L442.30 256.62 L440.30 256.12 L438.29 255.64 L436.29 255.15 L434.29 254.67 L432.29 254.19 L430.29 253.72 L428.29 253.25 L426.29 252.78 L424.29 252.32 L422.29 251.86 L420.29 251.40 L418.29 250.95 L416.29 250.50 L414.29 250.05 L412.29 249.61 L410.29 249.17 L408.28 248.74 L406.28 248.31 L404.28 247.88 L402.28 247.45 L400.28 247.03 L398.28 246.61 L396.28 246.20 L394.28 245.79 L392.28 245.38 L390.28 244.98 L388.28 244.59 L386.28 244.20 L384.28 243.81 L382.27 243.43 L380.27 243.05 L378.27 242.68 L376.27 242.31 L374.27 241.94 L372.27 241.57 L370.27 241.21 L368.27 240.85 L366.27 240.48 L364.27 240.12 L362.27 239.76 L360.27 239.40 L358.27 239.04 L356.27 238.68 L354.27 238.31 L352.27 237.95 L350.27 237.58 L348.27 237.21 L346.27 236.84 L344.27 236.47 L342.27 236.09 L340.27 235.71 L338.27 235.34 L336.27 234.97 L334.27 234.60 L332.27 234.23 L330.27 233.85 L328.27 233.48 L326.27 233.10 L324.27 232.72 L322.28 232.34 L320.28 231.95 L318.28 231.56 L316.28 231.16 L314.28 230.76 L312.28 230.35 L310.28 229.93 L308.28 229.51 L306.28 229.08 L304.29 228.64 L302.29 228.20 L300.29 227.75 L298.29 227.30 L296.29 226.83 L294.29 226.36 L292.29 225.88 L290.30 225.39 L288.30 224.89 L286.30 224.38 L284.30 223.87 L282.30 223.34 L280.30 222.81 L278.30 222.28 L276.31 221.73 L274.31 221.19 L272.31 220.63 L270.31 220.07 L268.31 219.51 L266.31 218.95 L264.31 218.38 L262.31 217.81 L260.31 217.24 L258.31 216.67 L256.31 216.09 L254.31 215.52 L252.31 214.94 L250.31 214.37 L248.31 213.80 L246.31 213.23 L244.31 212.66 L242.31 212.10 L240.31 211.53 L238.31 210.98 L236.31 210.42 L234.31 209.87 L232.31 209.32 L230.31 208.78 L228.30 208.23 L226.30 207.69 L224.30 207.15 L222.30 206.60 L220.31 206.06 L218.31 205.51 L216.31 204.97 L214.31 204.42 L212.31 203.86 L210.31 203.30 L208.31 202.74 L206.31 202.17 L204.31 201.60 L202.31 201.02 L200.31 200.44 L198.31 199.84 L196.32 199.24 L194.32 198.63 L192.32 198.01 L190.32 197.38 L188.32 196.74 L186.32 196.10 L184.32 195.45 L182.33 194.79 L180.33 194.12 L178.33 193.45 L176.33 192.78 L174.33 192.09 L172.33 191.40 L170.33 190.70 L168.33 190.00 L166.34 189.28 L164.34 188.56 L162.34 187.83 L160.34 187.10 L158.34 186.35 L156.34 185.59 L154.34 184.83 L152.35 184.06 L150.35 183.28 L148.35 182.48 L146.35 181.68 L144.35 180.87 L142.35 180.05 L140.35 179.22 L138.36 178.37 L136.36 177.52 L134.37 176.62 L132.37 175.70 L130.37 174.75 L128.38 173.78 L126.38 172.79 L124.38 171.79 L122.38 170.78 L120.38 169.77 L118.38 168.75 L116.38 167.74 L114.38 166.73 L112.38 165.74 L110.37 164.77 L108.37 163.84 L106.37 162.92 L104.37 162.00 L102.37 161.05 L100.38 160.06 L98.39 159.01 L96.41 157.88 L94.42 156.61 L92.44 155.18 L90.44 153.65 L88.44 152.10 L86.60 150.70 L86.60 139.20Z" fill="#0268e1"/><path d="M85.80 139.20 L85.80 155.91 L87.97 157.38 L89.97 158.79 L91.98 160.17 L94.00 161.45 L96.02 162.56 L98.04 163.50 L100.05 164.34 L102.06 165.11 L104.07 165.83 L106.07 166.54 L108.06 167.26 L110.05 168.02 L112.04 168.85 L114.03 169.76 L116.02 170.71 L118.02 171.70 L120.02 172.73 L122.01 173.78 L124.01 174.83 L126.01 175.89 L128.02 176.95 L130.02 177.98 L132.02 178.98 L134.03 179.94 L136.04 180.85 L138.05 181.71 L140.05 182.53 L142.05 183.34 L144.05 184.14 L146.06 184.92 L148.06 185.69 L150.06 186.45 L152.06 187.19 L154.06 187.93 L156.06 188.65 L158.07 189.36 L160.07 190.07 L162.07 190.76 L164.07 191.45 L166.07 192.12 L168.07 192.79 L170.08 193.45 L172.08 194.10 L174.08 194.75 L176.08 195.39 L178.08 196.02 L180.08 196.65 L182.08 197.27 L184.08 197.89 L186.08 198.51 L188.08 199.12 L190.08 199.73 L192.09 200.33 L194.09 200.92 L196.09 201.50 L198.09 202.07 L200.09 202.64 L202.09 203.20 L204.09 203.75 L206.10 204.30 L208.10 204.84 L210.10 205.37 L212.10 205.91 L214.10 206.44 L216.10 206.96 L218.10 207.48 L220.10 208.00 L222.10 208.52 L224.10 209.04 L226.10 209.56 L228.10 210.08 L230.10 210.59 L232.10 211.11 L234.10 211.63 L236.10 212.16 L238.10 212.68 L240.10 213.21 L242.10 213.74 L244.10 214.28 L246.10 214.81 L248.10 215.35 L250.10 215.89 L252.10 216.43 L254.10 216.97 L256.10 217.51 L258.10 218.05 L260.10 218.59 L262.10 219.13 L264.10 219.67 L266.10 220.20 L268.10 220.73 L270.10 221.26 L272.10 221.79 L274.10 222.31 L276.10 222.83 L278.10 223.34 L280.10 223.85 L282.10 224.35 L284.10 224.84 L286.11 225.33 L288.11 225.81 L290.11 226.29 L292.11 226.75 L294.11 227.21 L296.11 227.66 L298.11 228.10 L300.12 228.54 L302.12 228.96 L304.12 229.39 L306.12 229.80 L308.12 230.22 L310.12 230.63 L312.12 231.03 L314.12 231.44 L316.12 231.84 L318.12 232.23 L320.12 232.62 L322.12 233.01 L324.12 233.39 L326.13 233.78 L328.13 234.16 L330.13 234.53 L332.13 234.91 L334.13 235.28 L336.13 235.66 L338.13 236.03 L340.13 236.40 L342.13 236.78 L344.13 237.15 L346.13 237.52 L348.13 237.89 L350.13 238.26 L352.13 238.62 L354.13 238.98 L356.13 239.33 L358.13 239.69 L360.13 240.05 L362.13 240.40 L364.13 240.75 L366.13 241.11 L368.13 241.46 L370.13 241.82 L372.13 242.17 L374.13 242.53 L376.13 242.89 L378.13 243.25 L380.13 243.62 L382.13 243.98 L384.13 244.36 L386.13 244.73 L388.12 245.11 L390.12 245.49 L392.12 245.88 L394.12 246.28 L396.12 246.68 L398.12 247.08 L400.12 247.48 L402.12 247.89 L404.12 248.30 L406.12 248.72 L408.12 249.13 L410.12 249.55 L412.12 249.97 L414.12 250.40 L416.12 250.83 L418.12 251.26 L420.11 251.70 L422.11 252.13 L424.11 252.58 L426.11 253.02 L428.11 253.47 L430.11 253.93 L432.11 254.38 L434.11 254.84 L436.11 255.31 L438.11 255.77 L440.11 256.25 L442.11 256.72 L444.11 257.20 L446.11 257.69 L448.10 258.18 L450.10 258.68 L452.10 259.18 L454.10 259.70 L456.10 260.22 L458.10 260.75 L460.10 261.28 L462.10 261.82 L464.09 262.37 L466.09 262.92 L468.09 263.47 L470.09 264.03 L472.09 264.59 L474.09 265.15 L476.09 265.71 L478.09 266.27 L480.09 266.84 L482.09 267.40 L484.09 267.96 L486.09 268.53 L488.09 269.09 L490.09 269.64 L492.09 270.20 L494.09 270.75 L496.09 271.30 L498.10 271.84 L500.10 272.37 L502.10 272.90 L504.10 273.43 L506.10 273.96 L508.10 274.48 L510.10 275.00 L512.10 275.53 L514.10 276.05 L516.10 276.58 L518.10 277.11 L520.10 277.65 L522.09 278.20 L524.09 278.76 L526.09 279.32 L528.09 279.90 L530.09 280.47 L532.09 281.03 L534.08 281.60 L536.07 282.23 L538.05 282.94 L540.02 283.81 L541.99 284.94 L543.98 286.21 L545.99 287.52 L548.01 288.75 L550.03 289.77 L552.04 290.66 L554.05 291.49 L556.05 292.30 L558.05 293.10 L560.05 293.88 L562.05 294.66 L564.05 295.47 L566.05 296.29 L568.05 297.09 L570.06 297.86 L572.06 298.62 L574.06 299.39 L576.06 300.16 L578.05 300.94 L580.04 301.77 L582.03 302.67 L584.02 303.64 L586.02 304.65 L588.01 305.72 L589.80 306.73 L590.21 306.96 L590.60 307.18 L591.00 307.40 L591.38 307.64 L591.76 307.90 L592.14 308.20 L592.53 308.55 L592.91 308.93 L593.31 309.34 L593.70 309.78 L594.10 310.23 L594.50 310.69 L594.89 311.16 L595.29 311.63 L595.68 312.13 L596.08 312.66 L596.47 313.22 L596.86 313.84 L597.25 314.52 L597.64 315.29 L598.03 316.16 L598.42 317.13 L598.81 318.39 L599.22 320.62 L600.07 321.89 L600.73 321.45 L599.98 320.32 L599.59 318.20 L599.18 316.87 L598.77 315.85 L598.36 314.95 L597.95 314.14 L597.54 313.43 L597.13 312.78 L596.72 312.19 L596.32 311.64 L595.91 311.13 L595.51 310.64 L595.10 310.17 L594.70 309.71 L594.30 309.25 L593.89 308.80 L593.49 308.37 L593.07 307.97 L592.66 307.59 L592.24 307.26 L591.82 306.97 L591.40 306.71 L591.00 306.48 L590.59 306.26 L590.20 306.04 L588.39 305.02 L586.38 303.95 L584.38 302.93 L582.37 301.95 L580.36 301.03 L578.35 300.19 L576.34 299.41 L574.34 298.64 L572.34 297.87 L570.34 297.11 L568.35 296.34 L566.35 295.55 L564.35 294.73 L562.35 293.92 L560.35 293.13 L558.35 292.35 L556.35 291.56 L554.35 290.75 L552.36 289.92 L550.37 289.05 L548.39 288.05 L546.41 286.84 L544.42 285.54 L542.41 284.25 L540.38 283.10 L538.35 282.20 L536.33 281.47 L534.32 280.84 L532.31 280.26 L530.31 279.70 L528.31 279.13 L526.31 278.55 L524.31 277.99 L522.31 277.43 L520.30 276.88 L518.30 276.34 L516.30 275.81 L514.30 275.28 L512.30 274.75 L510.30 274.23 L508.30 273.71 L506.30 273.18 L504.30 272.66 L502.30 272.13 L500.30 271.60 L498.30 271.06 L496.31 270.52 L494.31 269.98 L492.31 269.43 L490.31 268.87 L488.31 268.32 L486.31 267.76 L484.31 267.19 L482.31 266.63 L480.31 266.07 L478.31 265.50 L476.31 264.94 L474.31 264.38 L472.31 263.82 L470.31 263.26 L468.31 262.70 L466.31 262.15 L464.31 261.60 L462.30 261.05 L460.30 260.51 L458.30 259.98 L456.30 259.45 L454.30 258.92 L452.30 258.41 L450.30 257.90 L448.30 257.40 L446.29 256.91 L444.29 256.42 L442.29 255.94 L440.29 255.47 L438.29 255.00 L436.29 254.53 L434.29 254.06 L432.29 253.60 L430.29 253.15 L428.29 252.69 L426.29 252.24 L424.29 251.80 L422.29 251.35 L420.29 250.91 L418.28 250.48 L416.28 250.05 L414.28 249.62 L412.28 249.19 L410.28 248.77 L408.28 248.35 L406.28 247.93 L404.28 247.52 L402.28 247.11 L400.28 246.70 L398.28 246.29 L396.28 245.89 L394.28 245.49 L392.28 245.10 L390.28 244.71 L388.28 244.32 L386.27 243.94 L384.27 243.57 L382.27 243.20 L380.27 242.83 L378.27 242.46 L376.27 242.10 L374.27 241.74 L372.27 241.38 L370.27 241.03 L368.27 240.67 L366.27 240.32 L364.27 239.97 L362.27 239.61 L360.27 239.26 L358.27 238.90 L356.27 238.55 L354.27 238.19 L352.27 237.83 L350.27 237.47 L348.27 237.10 L346.27 236.74 L344.27 236.37 L342.27 235.99 L340.27 235.62 L338.27 235.24 L336.27 234.87 L334.27 234.50 L332.27 234.12 L330.27 233.75 L328.27 233.37 L326.27 232.99 L324.28 232.61 L322.28 232.22 L320.28 231.84 L318.28 231.45 L316.28 231.05 L314.28 230.65 L312.28 230.25 L310.28 229.84 L308.28 229.43 L306.28 229.02 L304.28 228.60 L302.28 228.18 L300.28 227.75 L298.29 227.32 L296.29 226.88 L294.29 226.43 L292.29 225.98 L290.29 225.51 L288.29 225.04 L286.29 224.55 L284.30 224.07 L282.30 223.57 L280.30 223.07 L278.30 222.56 L276.30 222.05 L274.30 221.53 L272.30 221.01 L270.30 220.49 L268.30 219.96 L266.30 219.43 L264.30 218.89 L262.30 218.36 L260.30 217.82 L258.30 217.28 L256.30 216.74 L254.30 216.20 L252.30 215.66 L250.30 215.12 L248.30 214.58 L246.30 214.04 L244.30 213.50 L242.30 212.97 L240.30 212.44 L238.30 211.91 L236.30 211.38 L234.30 210.86 L232.30 210.34 L230.30 209.82 L228.30 209.30 L226.30 208.78 L224.30 208.27 L222.30 207.75 L220.30 207.23 L218.30 206.71 L216.30 206.19 L214.30 205.66 L212.30 205.13 L210.30 204.60 L208.30 204.07 L206.30 203.52 L204.31 202.98 L202.31 202.43 L200.31 201.87 L198.31 201.30 L196.31 200.73 L194.31 200.15 L192.31 199.56 L190.32 198.96 L188.32 198.36 L186.32 197.74 L184.32 197.13 L182.32 196.51 L180.32 195.89 L178.32 195.26 L176.32 194.63 L174.32 193.99 L172.32 193.34 L170.32 192.69 L168.33 192.03 L166.33 191.36 L164.33 190.69 L162.33 190.00 L160.33 189.31 L158.33 188.61 L156.34 187.90 L154.34 187.17 L152.34 186.44 L150.34 185.70 L148.34 184.94 L146.34 184.17 L144.35 183.39 L142.35 182.60 L140.35 181.79 L138.35 180.97 L136.36 180.12 L134.37 179.22 L132.38 178.26 L130.38 177.26 L128.38 176.24 L126.39 175.19 L124.39 174.13 L122.39 173.07 L120.38 172.02 L118.38 170.99 L116.38 169.99 L114.37 169.03 L112.36 168.12 L110.35 167.28 L108.34 166.51 L106.33 165.79 L104.33 165.08 L102.34 164.36 L100.35 163.59 L98.36 162.77 L96.38 161.84 L94.40 160.76 L92.42 159.50 L90.43 158.13 L88.43 156.73 L86.60 155.49 L86.60 139.20Z" fill="#117bd9"/><path d="M85.80 139.20 L85.80 161.25 L88.02 162.34 L90.02 163.35 L92.03 164.35 L94.04 165.30 L96.05 166.15 L98.06 166.91 L100.07 167.60 L102.08 168.24 L104.08 168.86 L106.08 169.48 L108.07 170.12 L110.06 170.80 L112.05 171.55 L114.04 172.38 L116.03 173.29 L118.02 174.26 L120.02 175.28 L122.01 176.33 L124.01 177.40 L126.01 178.47 L128.01 179.54 L130.02 180.59 L132.02 181.60 L134.03 182.57 L136.04 183.47 L138.05 184.30 L140.05 185.09 L142.06 185.87 L144.06 186.63 L146.06 187.38 L148.06 188.11 L150.07 188.83 L152.07 189.54 L154.07 190.23 L156.07 190.92 L158.07 191.59 L160.08 192.25 L162.08 192.90 L164.08 193.54 L166.08 194.17 L168.08 194.80 L170.08 195.42 L172.08 196.03 L174.08 196.63 L176.09 197.23 L178.09 197.82 L180.09 198.41 L182.09 199.00 L184.09 199.58 L186.09 200.16 L188.09 200.74 L190.09 201.31 L192.09 201.88 L194.09 202.44 L196.09 202.99 L198.10 203.53 L200.10 204.07 L202.10 204.60 L204.10 205.13 L206.10 205.65 L208.10 206.16 L210.10 206.67 L212.10 207.18 L214.10 207.68 L216.10 208.18 L218.10 208.68 L220.10 209.17 L222.10 209.66 L224.10 210.16 L226.10 210.65 L228.10 211.14 L230.10 211.63 L232.10 212.12 L234.10 212.62 L236.10 213.12 L238.10 213.61 L240.10 214.11 L242.10 214.62 L244.10 215.13 L246.10 215.64 L248.10 216.15 L250.10 216.66 L252.10 217.18 L254.10 217.70 L256.10 218.21 L258.10 218.73 L260.10 219.24 L262.10 219.76 L264.10 220.27 L266.10 220.78 L268.10 221.29 L270.10 221.79 L272.10 222.29 L274.10 222.78 L276.11 223.27 L278.11 223.76 L280.11 224.24 L282.11 224.71 L284.11 225.17 L286.11 225.63 L288.11 226.08 L290.11 226.52 L292.12 226.95 L294.12 227.37 L296.12 227.78 L298.12 228.17 L300.12 228.56 L302.13 228.95 L304.13 229.32 L306.13 229.70 L308.13 230.08 L310.13 230.45 L312.12 230.84 L314.12 231.22 L316.12 231.61 L318.12 232.00 L320.12 232.38 L322.12 232.77 L324.12 233.16 L326.12 233.54 L328.12 233.93 L330.12 234.31 L332.12 234.69 L334.13 235.07 L336.13 235.45 L338.13 235.83 L340.13 236.21 L342.13 236.58 L344.13 236.95 L346.13 237.32 L348.13 237.68 L350.13 238.04 L352.13 238.40 L354.13 238.75 L356.13 239.10 L358.13 239.45 L360.13 239.80 L362.13 240.15 L364.13 240.49 L366.13 240.84 L368.13 241.18 L370.13 241.53 L372.13 241.88 L374.13 242.23 L376.13 242.58 L378.13 242.93 L380.13 243.29 L382.13 243.64 L384.13 244.01 L386.13 244.37 L388.13 244.74 L390.13 245.12 L392.12 245.50 L394.12 245.88 L396.12 246.27 L398.12 246.66 L400.12 247.06 L402.12 247.45 L404.12 247.85 L406.12 248.26 L408.12 248.66 L410.12 249.07 L412.12 249.48 L414.12 249.89 L416.12 250.31 L418.12 250.73 L420.12 251.15 L422.12 251.58 L424.12 252.01 L426.11 252.44 L428.11 252.88 L430.11 253.32 L432.11 253.76 L434.11 254.21 L436.11 254.66 L438.11 255.12 L440.11 255.58 L442.11 256.04 L444.11 256.51 L446.11 256.99 L448.11 257.47 L450.10 257.96 L452.10 258.45 L454.10 258.96 L456.10 259.47 L458.10 259.99 L460.10 260.51 L462.10 261.04 L464.10 261.57 L466.10 262.11 L468.09 262.66 L470.09 263.20 L472.09 263.75 L474.09 264.31 L476.09 264.86 L478.09 265.41 L480.09 265.97 L482.09 266.53 L484.09 267.09 L486.09 267.64 L488.09 268.20 L490.09 268.75 L492.09 269.30 L494.09 269.85 L496.10 270.40 L498.10 270.94 L500.10 271.48 L502.10 272.01 L504.10 272.55 L506.10 273.08 L508.10 273.61 L510.10 274.15 L512.10 274.68 L514.10 275.22 L516.10 275.76 L518.09 276.30 L520.09 276.85 L522.09 277.40 L524.09 277.96 L526.09 278.53 L528.09 279.10 L530.09 279.66 L532.09 280.20 L534.09 280.76 L536.08 281.36 L538.06 282.05 L540.02 282.89 L542.00 283.97 L543.99 285.20 L545.99 286.45 L548.01 287.62 L550.04 288.58 L552.05 289.42 L554.06 290.19 L556.06 290.95 L558.06 291.72 L560.06 292.47 L562.05 293.24 L564.05 294.03 L566.05 294.82 L568.06 295.61 L570.06 296.38 L572.06 297.14 L574.06 297.91 L576.05 298.69 L578.05 299.48 L580.03 300.34 L582.02 301.30 L584.01 302.33 L586.01 303.41 L588.00 304.53 L589.80 305.60 L590.20 305.83 L590.60 306.07 L590.99 306.30 L591.38 306.55 L591.76 306.82 L592.14 307.13 L592.53 307.48 L592.92 307.85 L593.31 308.25 L593.71 308.67 L594.10 309.11 L594.50 309.56 L594.90 310.01 L595.29 310.48 L595.68 310.97 L596.08 311.49 L596.47 312.05 L596.86 312.66 L597.25 313.32 L597.64 314.08 L598.03 314.95 L598.42 315.98 L598.81 317.33 L599.22 319.71 L600.07 320.98 L600.73 320.54 L599.98 319.41 L599.59 317.15 L599.18 315.73 L598.77 314.65 L598.36 313.73 L597.95 312.93 L597.54 312.24 L597.13 311.60 L596.72 311.02 L596.32 310.48 L595.91 309.97 L595.50 309.49 L595.10 309.03 L594.70 308.57 L594.29 308.13 L593.89 307.70 L593.48 307.28 L593.07 306.89 L592.66 306.52 L592.24 306.19 L591.82 305.89 L591.41 305.62 L591.00 305.38 L590.60 305.14 L590.20 304.91 L588.40 303.84 L586.39 302.70 L584.39 301.62 L582.38 300.58 L580.37 299.61 L578.35 298.74 L576.35 297.95 L574.34 297.17 L572.34 296.39 L570.34 295.63 L568.34 294.87 L566.35 294.08 L564.35 293.28 L562.35 292.49 L560.34 291.72 L558.34 290.97 L556.34 290.20 L554.34 289.44 L552.35 288.67 L550.36 287.85 L548.39 286.91 L546.41 285.76 L544.41 284.52 L542.40 283.28 L540.38 282.17 L538.34 281.30 L536.32 280.60 L534.31 279.99 L532.31 279.43 L530.31 278.89 L528.31 278.33 L526.31 277.76 L524.31 277.19 L522.31 276.63 L520.31 276.08 L518.31 275.53 L516.30 274.99 L514.30 274.45 L512.30 273.91 L510.30 273.38 L508.30 272.84 L506.30 272.31 L504.30 271.77 L502.30 271.24 L500.30 270.70 L498.30 270.17 L496.30 269.62 L494.31 269.08 L492.31 268.53 L490.31 267.98 L488.31 267.43 L486.31 266.87 L484.31 266.31 L482.31 265.76 L480.31 265.20 L478.31 264.64 L476.31 264.09 L474.31 263.53 L472.31 262.98 L470.31 262.43 L468.31 261.89 L466.30 261.34 L464.30 260.80 L462.30 260.27 L460.30 259.74 L458.30 259.21 L456.30 258.69 L454.30 258.18 L452.30 257.68 L450.30 257.18 L448.29 256.69 L446.29 256.21 L444.29 255.73 L442.29 255.26 L440.29 254.80 L438.29 254.34 L436.29 253.88 L434.29 253.43 L432.29 252.98 L430.29 252.54 L428.29 252.10 L426.29 251.66 L424.28 251.22 L422.28 250.79 L420.28 250.37 L418.28 249.95 L416.28 249.53 L414.28 249.11 L412.28 248.69 L410.28 248.28 L408.28 247.88 L406.28 247.47 L404.28 247.07 L402.28 246.67 L400.28 246.27 L398.28 245.88 L396.28 245.48 L394.28 245.09 L392.28 244.71 L390.27 244.33 L388.27 243.95 L386.27 243.58 L384.27 243.22 L382.27 242.86 L380.27 242.50 L378.27 242.14 L376.27 241.79 L374.27 241.44 L372.27 241.09 L370.27 240.74 L368.27 240.40 L366.27 240.05 L364.27 239.70 L362.27 239.36 L360.27 239.01 L358.27 238.66 L356.27 238.31 L354.27 237.96 L352.27 237.61 L350.27 237.25 L348.27 236.89 L346.27 236.53 L344.27 236.16 L342.27 235.79 L340.27 235.42 L338.27 235.04 L336.27 234.67 L334.27 234.29 L332.28 233.91 L330.28 233.52 L328.28 233.14 L326.28 232.76 L324.28 232.37 L322.28 231.98 L320.28 231.60 L318.28 231.21 L316.28 230.82 L314.28 230.44 L312.28 230.05 L310.27 229.67 L308.27 229.29 L306.27 228.91 L304.27 228.54 L302.27 228.16 L300.28 227.78 L298.28 227.39 L296.28 226.99 L294.28 226.59 L292.28 226.17 L290.29 225.74 L288.29 225.30 L286.29 224.85 L284.29 224.39 L282.29 223.93 L280.29 223.46 L278.29 222.98 L276.29 222.50 L274.30 222.01 L272.30 221.51 L270.30 221.01 L268.30 220.51 L266.30 220.00 L264.30 219.49 L262.30 218.98 L260.30 218.47 L258.30 217.95 L256.30 217.44 L254.30 216.92 L252.30 216.41 L250.30 215.89 L248.30 215.38 L246.30 214.86 L244.30 214.35 L242.30 213.84 L240.30 213.34 L238.30 212.84 L236.30 212.34 L234.30 211.84 L232.30 211.35 L230.30 210.86 L228.30 210.36 L226.30 209.87 L224.30 209.38 L222.30 208.89 L220.30 208.39 L218.30 207.90 L216.30 207.40 L214.30 206.90 L212.30 206.40 L210.30 205.89 L208.30 205.39 L206.30 204.87 L204.30 204.35 L202.30 203.83 L200.30 203.30 L198.30 202.76 L196.31 202.22 L194.31 201.67 L192.31 201.11 L190.31 200.54 L188.31 199.97 L186.31 199.39 L184.31 198.81 L182.31 198.23 L180.31 197.64 L178.31 197.06 L176.31 196.46 L174.32 195.86 L172.32 195.26 L170.32 194.65 L168.32 194.03 L166.32 193.41 L164.32 192.78 L162.32 192.14 L160.32 191.49 L158.33 190.83 L156.33 190.16 L154.33 189.48 L152.33 188.79 L150.33 188.08 L148.34 187.36 L146.34 186.63 L144.34 185.89 L142.34 185.12 L140.35 184.35 L138.35 183.56 L136.36 182.74 L134.37 181.84 L132.38 180.88 L130.38 179.88 L128.39 178.83 L126.39 177.77 L124.39 176.69 L122.39 175.62 L120.38 174.57 L118.38 173.55 L116.37 172.57 L114.36 171.65 L112.35 170.81 L110.34 170.05 L108.33 169.36 L106.32 168.71 L104.32 168.09 L102.32 167.48 L100.33 166.84 L98.34 166.16 L96.35 165.41 L94.36 164.56 L92.37 163.63 L90.38 162.64 L88.38 161.63 L86.60 160.75 L86.60 139.20Z" fill="#108ed2"/><path d="M85.80 139.20 L85.80 166.06 L88.04 167.02 L90.04 167.90 L92.04 168.77 L94.05 169.60 L96.07 170.35 L98.08 171.01 L100.09 171.62 L102.09 172.19 L104.09 172.73 L106.09 173.28 L108.09 173.85 L110.08 174.47 L112.06 175.15 L114.05 175.91 L116.04 176.75 L118.03 177.65 L120.03 178.60 L122.02 179.58 L124.02 180.59 L126.02 181.60 L128.02 182.61 L130.03 183.60 L132.03 184.56 L134.04 185.46 L136.05 186.31 L138.06 187.09 L140.06 187.83 L142.07 188.55 L144.07 189.26 L146.07 189.95 L148.07 190.63 L150.07 191.30 L152.08 191.96 L154.08 192.60 L156.08 193.23 L158.08 193.85 L160.08 194.47 L162.09 195.07 L164.09 195.66 L166.09 196.25 L168.09 196.83 L170.09 197.40 L172.09 197.96 L174.09 198.52 L176.09 199.08 L178.09 199.63 L180.09 200.18 L182.09 200.73 L184.10 201.27 L186.10 201.81 L188.10 202.35 L190.10 202.89 L192.10 203.43 L194.10 203.95 L196.10 204.47 L198.10 204.98 L200.10 205.49 L202.10 205.99 L204.10 206.49 L206.11 206.98 L208.11 207.47 L210.11 207.95 L212.11 208.43 L214.11 208.91 L216.11 209.38 L218.11 209.85 L220.11 210.32 L222.11 210.79 L224.11 211.26 L226.11 211.72 L228.11 212.19 L230.11 212.66 L232.11 213.13 L234.11 213.60 L236.11 214.07 L238.11 214.54 L240.11 215.02 L242.11 215.50 L244.11 215.98 L246.10 216.47 L248.10 216.97 L250.10 217.46 L252.10 217.96 L254.10 218.46 L256.10 218.95 L258.10 219.45 L260.10 219.95 L262.10 220.45 L264.10 220.94 L266.10 221.43 L268.11 221.92 L270.11 222.41 L272.11 222.88 L274.11 223.36 L276.11 223.82 L278.11 224.28 L280.11 224.74 L282.11 225.18 L284.12 225.61 L286.12 226.04 L288.12 226.45 L290.12 226.86 L292.12 227.25 L294.13 227.62 L296.13 227.98 L298.13 228.32 L300.13 228.66 L302.14 228.98 L304.14 229.31 L306.14 229.63 L308.13 229.96 L310.13 230.30 L312.13 230.64 L314.13 231.00 L316.13 231.36 L318.13 231.73 L320.13 232.11 L322.13 232.48 L324.13 232.86 L326.12 233.24 L328.12 233.63 L330.12 234.01 L332.12 234.40 L334.13 234.78 L336.13 235.16 L338.13 235.54 L340.13 235.91 L342.13 236.28 L344.13 236.65 L346.13 237.01 L348.13 237.37 L350.13 237.72 L352.13 238.08 L354.13 238.43 L356.13 238.77 L358.13 239.12 L360.13 239.46 L362.13 239.81 L364.13 240.15 L366.13 240.49 L368.13 240.84 L370.13 241.18 L372.13 241.52 L374.13 241.87 L376.13 242.22 L378.13 242.57 L380.13 242.92 L382.13 243.27 L384.13 243.63 L386.13 243.99 L388.13 244.36 L390.13 244.73 L392.13 245.10 L394.12 245.48 L396.12 245.87 L398.12 246.25 L400.12 246.64 L402.12 247.03 L404.12 247.42 L406.12 247.82 L408.12 248.22 L410.12 248.62 L412.12 249.02 L414.12 249.43 L416.12 249.84 L418.12 250.25 L420.12 250.66 L422.12 251.08 L424.12 251.50 L426.12 251.93 L428.12 252.36 L430.12 252.79 L432.11 253.23 L434.11 253.67 L436.11 254.11 L438.11 254.56 L440.11 255.01 L442.11 255.46 L444.11 255.92 L446.11 256.39 L448.11 256.86 L450.11 257.34 L452.11 257.82 L454.10 258.31 L456.10 258.81 L458.10 259.31 L460.10 259.82 L462.10 260.34 L464.10 260.86 L466.10 261.38 L468.10 261.91 L470.10 262.44 L472.10 262.98 L474.10 263.52 L476.10 264.06 L478.10 264.60 L480.09 265.14 L482.09 265.69 L484.09 266.23 L486.09 266.78 L488.09 267.32 L490.09 267.87 L492.10 268.41 L494.10 268.96 L496.10 269.50 L498.10 270.04 L500.10 270.58 L502.10 271.12 L504.10 271.66 L506.10 272.20 L508.09 272.74 L510.09 273.29 L512.09 273.84 L514.09 274.39 L516.09 274.94 L518.09 275.49 L520.09 276.05 L522.09 276.61 L524.09 277.17 L526.09 277.73 L528.09 278.30 L530.10 278.86 L532.10 279.39 L534.09 279.93 L536.08 280.51 L538.06 281.16 L540.04 281.96 L542.01 282.95 L544.00 284.07 L546.01 285.21 L548.03 286.27 L550.05 287.15 L552.06 287.91 L554.07 288.62 L556.06 289.33 L558.06 290.05 L560.06 290.78 L562.06 291.52 L564.06 292.28 L566.06 293.06 L568.06 293.84 L570.06 294.60 L572.06 295.36 L574.05 296.14 L576.05 296.93 L578.04 297.73 L580.03 298.62 L582.01 299.64 L584.00 300.75 L586.00 301.90 L587.99 303.10 L589.79 304.23 L590.19 304.48 L590.59 304.73 L590.98 304.98 L591.37 305.24 L591.75 305.53 L592.14 305.84 L592.53 306.19 L592.92 306.55 L593.32 306.93 L593.71 307.34 L594.11 307.76 L594.50 308.19 L594.90 308.63 L595.29 309.09 L595.69 309.57 L596.08 310.09 L596.47 310.64 L596.86 311.23 L597.25 311.87 L597.64 312.61 L598.03 313.50 L598.42 314.59 L598.81 316.04 L599.22 318.61 L600.07 319.88 L600.73 319.44 L599.98 318.31 L599.59 315.88 L599.18 314.35 L598.77 313.20 L598.36 312.27 L597.95 311.48 L597.54 310.80 L597.13 310.19 L596.72 309.61 L596.31 309.08 L595.91 308.58 L595.50 308.11 L595.10 307.65 L594.69 307.21 L594.29 306.78 L593.88 306.37 L593.48 305.97 L593.07 305.59 L592.66 305.23 L592.25 304.90 L591.83 304.59 L591.42 304.31 L591.01 304.05 L590.61 303.80 L590.21 303.55 L588.41 302.42 L586.40 301.21 L584.40 300.05 L582.39 298.93 L580.37 297.90 L578.36 297.00 L576.35 296.18 L574.35 295.39 L572.34 294.61 L570.34 293.85 L568.34 293.09 L566.34 292.32 L564.34 291.54 L562.34 290.77 L560.34 290.03 L558.34 289.30 L556.34 288.58 L554.33 287.86 L552.34 287.16 L550.35 286.41 L548.37 285.55 L546.39 284.51 L544.40 283.37 L542.39 282.25 L540.36 281.23 L538.34 280.41 L536.32 279.75 L534.31 279.16 L532.30 278.61 L530.30 278.08 L528.31 277.53 L526.31 276.96 L524.31 276.40 L522.31 275.84 L520.31 275.28 L518.31 274.72 L516.31 274.17 L514.31 273.62 L512.31 273.07 L510.31 272.52 L508.31 271.97 L506.30 271.43 L504.30 270.89 L502.30 270.34 L500.30 269.80 L498.30 269.26 L496.30 268.73 L494.30 268.18 L492.30 267.64 L490.31 267.10 L488.31 266.55 L486.31 266.01 L484.31 265.46 L482.31 264.91 L480.31 264.37 L478.30 263.83 L476.30 263.28 L474.30 262.74 L472.30 262.21 L470.30 261.67 L468.30 261.14 L466.30 260.61 L464.30 260.09 L462.30 259.57 L460.30 259.05 L458.30 258.54 L456.30 258.03 L454.30 257.54 L452.29 257.04 L450.29 256.56 L448.29 256.08 L446.29 255.61 L444.29 255.14 L442.29 254.68 L440.29 254.23 L438.29 253.78 L436.29 253.33 L434.29 252.88 L432.29 252.44 L430.28 252.01 L428.28 251.58 L426.28 251.15 L424.28 250.72 L422.28 250.30 L420.28 249.88 L418.28 249.47 L416.28 249.05 L414.28 248.64 L412.28 248.24 L410.28 247.83 L408.28 247.43 L406.28 247.04 L404.28 246.64 L402.28 246.25 L400.28 245.86 L398.28 245.47 L396.28 245.08 L394.28 244.70 L392.27 244.32 L390.27 243.94 L388.27 243.57 L386.27 243.21 L384.27 242.84 L382.27 242.49 L380.27 242.13 L378.27 241.78 L376.27 241.43 L374.27 241.08 L372.27 240.74 L370.27 240.39 L368.27 240.05 L366.27 239.70 L364.27 239.36 L362.27 239.02 L360.27 238.68 L358.27 238.33 L356.27 237.99 L354.27 237.64 L352.27 237.29 L350.27 236.94 L348.27 236.58 L346.27 236.22 L344.27 235.86 L342.27 235.50 L340.27 235.13 L338.27 234.75 L336.27 234.37 L334.27 233.99 L332.28 233.61 L330.28 233.23 L328.28 232.84 L326.28 232.46 L324.27 232.08 L322.27 231.70 L320.27 231.32 L318.27 230.95 L316.27 230.58 L314.27 230.21 L312.27 229.85 L310.27 229.51 L308.27 229.17 L306.26 228.84 L304.26 228.52 L302.26 228.19 L300.27 227.87 L298.27 227.53 L296.27 227.19 L294.27 226.83 L292.28 226.46 L290.28 226.07 L288.28 225.67 L286.28 225.26 L284.28 224.83 L282.29 224.40 L280.29 223.96 L278.29 223.50 L276.29 223.04 L274.29 222.58 L272.29 222.11 L270.29 221.63 L268.29 221.14 L266.30 220.66 L264.30 220.17 L262.30 219.67 L260.30 219.17 L258.30 218.68 L256.30 218.18 L254.30 217.68 L252.30 217.18 L250.30 216.68 L248.30 216.19 L246.30 215.70 L244.29 215.21 L242.29 214.72 L240.29 214.24 L238.29 213.77 L236.29 213.29 L234.29 212.82 L232.29 212.35 L230.29 211.88 L228.29 211.41 L226.29 210.95 L224.29 210.48 L222.29 210.01 L220.29 209.54 L218.29 209.07 L216.29 208.60 L214.29 208.13 L212.29 207.65 L210.29 207.17 L208.29 206.69 L206.29 206.20 L204.30 205.71 L202.30 205.22 L200.30 204.72 L198.30 204.21 L196.30 203.70 L194.30 203.18 L192.30 202.65 L190.30 202.12 L188.30 201.58 L186.30 201.04 L184.30 200.50 L182.31 199.95 L180.31 199.41 L178.31 198.86 L176.31 198.31 L174.31 197.75 L172.31 197.19 L170.31 196.63 L168.31 196.06 L166.31 195.48 L164.31 194.89 L162.31 194.30 L160.32 193.70 L158.32 193.09 L156.32 192.47 L154.32 191.84 L152.32 191.20 L150.33 190.54 L148.33 189.88 L146.33 189.20 L144.33 188.51 L142.33 187.80 L140.34 187.08 L138.34 186.34 L136.35 185.57 L134.36 184.73 L132.37 183.83 L130.37 182.88 L128.38 181.89 L126.38 180.89 L124.38 179.87 L122.38 178.86 L120.37 177.88 L118.37 176.92 L116.36 176.01 L114.35 175.17 L112.34 174.40 L110.32 173.71 L108.31 173.09 L106.31 172.51 L104.31 171.96 L102.31 171.42 L100.31 170.85 L98.32 170.25 L96.33 169.59 L94.35 168.85 L92.36 168.03 L90.36 167.17 L88.36 166.29 L86.60 165.54 L86.60 139.20Z" fill="#06a2cb"/><path d="M85.80 139.20 L85.80 170.80 L88.09 171.47 L90.09 172.06 L92.09 172.65 L94.09 173.24 L96.08 173.84 L98.09 174.45 L100.09 175.04 L102.08 175.64 L104.08 176.25 L106.08 176.87 L108.08 177.50 L110.07 178.16 L112.07 178.85 L114.06 179.58 L116.05 180.36 L118.05 181.17 L120.04 182.02 L122.04 182.88 L124.04 183.76 L126.04 184.64 L128.04 185.51 L130.04 186.37 L132.05 187.21 L134.06 188.01 L136.06 188.77 L138.07 189.47 L140.07 190.16 L142.07 190.83 L144.08 191.49 L146.08 192.14 L148.08 192.78 L150.08 193.41 L152.08 194.02 L154.08 194.63 L156.09 195.23 L158.09 195.83 L160.09 196.41 L162.09 196.99 L164.09 197.56 L166.09 198.12 L168.09 198.67 L170.09 199.22 L172.10 199.77 L174.10 200.31 L176.10 200.84 L178.10 201.37 L180.10 201.90 L182.10 202.42 L184.10 202.94 L186.10 203.45 L188.10 203.97 L190.10 204.48 L192.10 204.98 L194.10 205.48 L196.11 205.97 L198.11 206.46 L200.11 206.93 L202.11 207.41 L204.11 207.88 L206.11 208.34 L208.11 208.80 L210.11 209.26 L212.11 209.71 L214.11 210.16 L216.11 210.61 L218.11 211.05 L220.11 211.49 L222.11 211.94 L224.11 212.38 L226.11 212.82 L228.11 213.26 L230.11 213.70 L232.11 214.14 L234.11 214.58 L236.11 215.03 L238.11 215.48 L240.11 215.92 L242.11 216.38 L244.11 216.84 L246.11 217.30 L248.11 217.77 L250.11 218.24 L252.11 218.72 L254.11 219.19 L256.11 219.67 L258.11 220.15 L260.11 220.62 L262.11 221.10 L264.11 221.57 L266.11 222.04 L268.11 222.50 L270.11 222.96 L272.11 223.42 L274.11 223.86 L276.12 224.30 L278.12 224.73 L280.12 225.16 L282.12 225.57 L284.12 225.97 L286.13 226.36 L288.13 226.73 L290.13 227.09 L292.13 227.44 L294.14 227.77 L296.14 228.08 L298.14 228.37 L300.15 228.64 L302.15 228.92 L304.15 229.19 L306.14 229.46 L308.14 229.74 L310.14 230.04 L312.14 230.35 L314.13 230.68 L316.13 231.02 L318.13 231.38 L320.13 231.74 L322.13 232.12 L324.12 232.50 L326.12 232.88 L328.12 233.27 L330.12 233.67 L332.12 234.06 L334.12 234.45 L336.12 234.84 L338.12 235.23 L340.13 235.61 L342.13 235.98 L344.13 236.35 L346.13 236.71 L348.13 237.06 L350.13 237.42 L352.13 237.77 L354.13 238.11 L356.13 238.46 L358.13 238.80 L360.13 239.14 L362.13 239.48 L364.13 239.82 L366.13 240.16 L368.13 240.50 L370.13 240.84 L372.13 241.18 L374.13 241.52 L376.13 241.86 L378.13 242.21 L380.13 242.56 L382.13 242.91 L384.13 243.26 L386.13 243.62 L388.13 243.98 L390.13 244.34 L392.13 244.71 L394.13 245.08 L396.13 245.46 L398.13 245.84 L400.12 246.23 L402.12 246.61 L404.12 247.00 L406.12 247.38 L408.12 247.77 L410.12 248.17 L412.12 248.56 L414.12 248.96 L416.12 249.36 L418.12 249.77 L420.12 250.17 L422.12 250.58 L424.12 251.00 L426.12 251.41 L428.12 251.83 L430.12 252.26 L432.12 252.68 L434.12 253.12 L436.11 253.55 L438.11 253.99 L440.11 254.43 L442.11 254.88 L444.11 255.33 L446.11 255.79 L448.11 256.25 L450.11 256.72 L452.11 257.19 L454.11 257.68 L456.10 258.17 L458.10 258.66 L460.10 259.16 L462.10 259.66 L464.10 260.17 L466.10 260.69 L468.10 261.21 L470.10 261.73 L472.10 262.25 L474.10 262.78 L476.10 263.31 L478.10 263.85 L480.10 264.38 L482.10 264.92 L484.10 265.46 L486.10 266.00 L488.10 266.54 L490.10 267.08 L492.10 267.62 L494.10 268.16 L496.10 268.70 L498.10 269.24 L500.10 269.78 L502.09 270.32 L504.09 270.87 L506.09 271.43 L508.09 271.98 L510.09 272.54 L512.09 273.10 L514.09 273.66 L516.09 274.22 L518.09 274.78 L520.09 275.35 L522.09 275.91 L524.09 276.48 L526.09 277.04 L528.09 277.60 L530.10 278.15 L532.10 278.67 L534.10 279.19 L536.09 279.75 L538.07 280.38 L540.05 281.12 L542.03 282.03 L544.02 283.04 L546.02 284.07 L548.04 285.03 L550.06 285.83 L552.07 286.53 L554.08 287.17 L556.07 287.84 L558.07 288.52 L560.07 289.22 L562.06 289.93 L564.06 290.67 L566.06 291.44 L568.06 292.20 L570.06 292.96 L572.06 293.72 L574.05 294.50 L576.05 295.30 L578.04 296.12 L580.02 297.04 L582.00 298.11 L583.99 299.29 L585.99 300.51 L587.98 301.78 L589.78 302.97 L590.18 303.23 L590.58 303.49 L590.97 303.76 L591.36 304.04 L591.75 304.34 L592.14 304.66 L592.54 304.99 L592.93 305.35 L593.32 305.72 L593.72 306.11 L594.11 306.51 L594.51 306.93 L594.90 307.36 L595.30 307.81 L595.69 308.29 L596.08 308.79 L596.47 309.34 L596.86 309.92 L597.25 310.54 L597.64 311.26 L598.03 312.16 L598.42 313.31 L598.81 314.86 L599.22 317.60 L600.07 318.87 L600.73 318.43 L599.98 317.30 L599.59 314.70 L599.18 313.09 L598.77 311.87 L598.36 310.91 L597.95 310.14 L597.54 309.48 L597.13 308.88 L596.72 308.31 L596.31 307.79 L595.90 307.29 L595.50 306.83 L595.09 306.38 L594.69 305.96 L594.28 305.54 L593.88 305.14 L593.47 304.76 L593.06 304.39 L592.66 304.04 L592.25 303.71 L591.84 303.39 L591.43 303.10 L591.02 302.83 L590.62 302.56 L590.22 302.30 L588.42 301.11 L586.41 299.84 L584.41 298.60 L582.40 297.41 L580.38 296.32 L578.36 295.39 L576.35 294.56 L574.35 293.76 L572.34 292.97 L570.34 292.21 L568.34 291.45 L566.34 290.69 L564.34 289.92 L562.34 289.18 L560.33 288.46 L558.33 287.77 L556.33 287.08 L554.32 286.41 L552.33 285.77 L550.34 285.08 L548.36 284.29 L546.38 283.35 L544.38 282.33 L542.37 281.31 L540.35 280.38 L538.33 279.62 L536.31 278.99 L534.30 278.42 L532.30 277.90 L530.30 277.38 L528.31 276.83 L526.31 276.27 L524.31 275.71 L522.31 275.14 L520.31 274.58 L518.31 274.01 L516.31 273.45 L514.31 272.89 L512.31 272.33 L510.31 271.77 L508.31 271.21 L506.31 270.65 L504.31 270.10 L502.31 269.55 L500.30 269.01 L498.30 268.46 L496.30 267.93 L494.30 267.39 L492.30 266.85 L490.30 266.31 L488.30 265.77 L486.30 265.22 L484.30 264.69 L482.30 264.15 L480.30 263.61 L478.30 263.07 L476.30 262.54 L474.30 262.01 L472.30 261.48 L470.30 260.95 L468.30 260.43 L466.30 259.91 L464.30 259.40 L462.30 258.89 L460.30 258.38 L458.30 257.88 L456.30 257.39 L454.29 256.90 L452.29 256.42 L450.29 255.94 L448.29 255.47 L446.29 255.01 L444.29 254.55 L442.29 254.10 L440.29 253.65 L438.29 253.21 L436.29 252.77 L434.28 252.33 L432.28 251.90 L430.28 251.47 L428.28 251.05 L426.28 250.63 L424.28 250.21 L422.28 249.80 L420.28 249.39 L418.28 248.98 L416.28 248.58 L414.28 248.18 L412.28 247.78 L410.28 247.38 L408.28 246.99 L406.28 246.60 L404.28 246.21 L402.28 245.82 L400.28 245.44 L398.27 245.06 L396.27 244.68 L394.27 244.30 L392.27 243.92 L390.27 243.55 L388.27 243.19 L386.27 242.83 L384.27 242.47 L382.27 242.12 L380.27 241.77 L378.27 241.42 L376.27 241.08 L374.27 240.73 L372.27 240.39 L370.27 240.05 L368.27 239.71 L366.27 239.37 L364.27 239.03 L362.27 238.69 L360.27 238.35 L358.27 238.01 L356.27 237.67 L354.27 237.32 L352.27 236.98 L350.27 236.63 L348.27 236.28 L346.27 235.92 L344.27 235.56 L342.27 235.20 L340.27 234.82 L338.28 234.44 L336.28 234.06 L334.28 233.67 L332.28 233.28 L330.28 232.88 L328.28 232.49 L326.28 232.10 L324.28 231.71 L322.27 231.33 L320.27 230.96 L318.27 230.59 L316.27 230.23 L314.27 229.89 L312.26 229.56 L310.26 229.25 L308.26 228.95 L306.26 228.67 L304.25 228.39 L302.25 228.12 L300.25 227.85 L298.26 227.57 L296.26 227.28 L294.26 226.98 L292.27 226.65 L290.27 226.31 L288.27 225.95 L286.27 225.57 L284.28 225.18 L282.28 224.78 L280.28 224.37 L278.28 223.95 L276.28 223.52 L274.29 223.08 L272.29 222.64 L270.29 222.18 L268.29 221.72 L266.29 221.26 L264.29 220.79 L262.29 220.32 L260.29 219.84 L258.29 219.37 L256.29 218.89 L254.29 218.41 L252.29 217.94 L250.29 217.46 L248.29 216.99 L246.29 216.52 L244.29 216.06 L242.29 215.60 L240.29 215.14 L238.29 214.70 L236.29 214.25 L234.29 213.80 L232.29 213.36 L230.29 212.92 L228.29 212.48 L226.29 212.04 L224.29 211.60 L222.29 211.15 L220.29 210.71 L218.29 210.27 L216.29 209.82 L214.29 209.38 L212.29 208.93 L210.29 208.48 L208.29 208.02 L206.29 207.56 L204.29 207.10 L202.29 206.63 L200.29 206.16 L198.29 205.68 L196.29 205.19 L194.30 204.70 L192.30 204.21 L190.30 203.70 L188.30 203.19 L186.30 202.68 L184.30 202.16 L182.30 201.64 L180.30 201.12 L178.30 200.60 L176.30 200.07 L174.30 199.53 L172.30 198.99 L170.31 198.45 L168.31 197.90 L166.31 197.35 L164.31 196.79 L162.31 196.22 L160.31 195.64 L158.31 195.06 L156.31 194.47 L154.32 193.87 L152.32 193.26 L150.32 192.64 L148.32 192.01 L146.32 191.38 L144.32 190.73 L142.33 190.07 L140.33 189.40 L138.33 188.72 L136.34 188.02 L134.34 187.26 L132.35 186.47 L130.36 185.64 L128.36 184.78 L126.36 183.91 L124.36 183.03 L122.36 182.15 L120.36 181.28 L118.35 180.43 L116.35 179.61 L114.34 178.83 L112.33 178.09 L110.33 177.40 L108.32 176.74 L106.32 176.10 L104.32 175.48 L102.32 174.88 L100.31 174.28 L98.31 173.68 L96.32 173.08 L94.31 172.48 L92.31 171.88 L90.31 171.29 L88.31 170.71 L86.60 170.20 L86.60 139.20Z" fill="#0faeb9"/><path d="M85.80 139.20 L85.80 175.13 L88.13 175.57 L90.13 175.93 L92.12 176.30 L94.12 176.70 L96.11 177.14 L98.10 177.63 L100.09 178.16 L102.09 178.73 L104.08 179.33 L106.08 179.96 L108.08 180.61 L110.07 181.27 L112.07 181.95 L114.06 182.65 L116.06 183.40 L118.05 184.19 L120.05 185.01 L122.04 185.84 L124.04 186.69 L126.04 187.54 L128.05 188.38 L130.05 189.21 L132.05 190.01 L134.06 190.78 L136.07 191.50 L138.08 192.17 L140.08 192.81 L142.08 193.44 L144.08 194.06 L146.09 194.66 L148.09 195.25 L150.09 195.84 L152.09 196.41 L154.09 196.97 L156.09 197.53 L158.10 198.07 L160.10 198.61 L162.10 199.14 L164.10 199.66 L166.10 200.18 L168.10 200.69 L170.10 201.19 L172.10 201.69 L174.10 202.19 L176.10 202.68 L178.11 203.17 L180.11 203.65 L182.11 204.14 L184.11 204.62 L186.11 205.10 L188.11 205.58 L190.11 206.06 L192.11 206.54 L194.11 207.01 L196.11 207.47 L198.11 207.93 L200.11 208.38 L202.11 208.83 L204.11 209.28 L206.11 209.72 L208.11 210.16 L210.12 210.59 L212.12 211.02 L214.12 211.45 L216.12 211.88 L218.12 212.30 L220.12 212.73 L222.12 213.15 L224.12 213.57 L226.12 213.99 L228.12 214.41 L230.12 214.83 L232.12 215.25 L234.12 215.67 L236.12 216.09 L238.12 216.51 L240.12 216.93 L242.12 217.36 L244.11 217.79 L246.11 218.23 L248.11 218.67 L250.11 219.12 L252.11 219.56 L254.11 220.01 L256.11 220.47 L258.11 220.92 L260.11 221.37 L262.11 221.82 L264.11 222.26 L266.11 222.70 L268.12 223.14 L270.12 223.57 L272.12 223.99 L274.12 224.41 L276.12 224.82 L278.12 225.21 L280.13 225.60 L282.13 225.97 L284.13 226.34 L286.13 226.68 L288.14 227.02 L290.14 227.34 L292.14 227.64 L294.15 227.91 L296.15 228.17 L298.15 228.41 L300.16 228.63 L302.16 228.85 L304.16 229.07 L306.15 229.29 L308.15 229.53 L310.15 229.78 L312.14 230.05 L314.14 230.35 L316.13 230.67 L318.13 231.01 L320.13 231.37 L322.13 231.74 L324.12 232.12 L326.12 232.51 L328.12 232.91 L330.12 233.31 L332.12 233.72 L334.12 234.12 L336.12 234.52 L338.12 234.92 L340.13 235.31 L342.13 235.68 L344.13 236.05 L346.13 236.40 L348.13 236.76 L350.13 237.11 L352.13 237.45 L354.13 237.80 L356.13 238.14 L358.13 238.48 L360.13 238.82 L362.13 239.15 L364.13 239.49 L366.13 239.82 L368.13 240.16 L370.13 240.49 L372.13 240.83 L374.13 241.17 L376.13 241.50 L378.13 241.84 L380.13 242.19 L382.13 242.53 L384.13 242.88 L386.13 243.23 L388.13 243.59 L390.13 243.95 L392.13 244.31 L394.13 244.68 L396.13 245.06 L398.13 245.44 L400.13 245.82 L402.12 246.20 L404.12 246.58 L406.12 246.97 L408.12 247.35 L410.12 247.74 L412.12 248.14 L414.12 248.53 L416.12 248.93 L418.12 249.33 L420.12 249.73 L422.12 250.14 L424.12 250.55 L426.12 250.96 L428.12 251.38 L430.12 251.80 L432.12 252.22 L434.12 252.65 L436.12 253.08 L438.11 253.51 L440.11 253.95 L442.11 254.39 L444.11 254.84 L446.11 255.29 L448.11 255.74 L450.11 256.20 L452.11 256.67 L454.11 257.14 L456.11 257.61 L458.11 258.09 L460.11 258.58 L462.10 259.07 L464.10 259.56 L466.10 260.06 L468.10 260.56 L470.10 261.07 L472.10 261.58 L474.10 262.09 L476.10 262.61 L478.10 263.13 L480.10 263.65 L482.10 264.17 L484.10 264.70 L486.10 265.23 L488.10 265.76 L490.10 266.29 L492.10 266.83 L494.10 267.36 L496.10 267.90 L498.10 268.44 L500.09 268.98 L502.09 269.54 L504.09 270.10 L506.09 270.67 L508.09 271.24 L510.09 271.82 L512.09 272.40 L514.09 272.98 L516.09 273.56 L518.09 274.15 L520.09 274.73 L522.09 275.30 L524.09 275.88 L526.09 276.44 L528.09 277.00 L530.10 277.54 L532.10 278.05 L534.10 278.56 L536.09 279.10 L538.08 279.69 L540.05 280.39 L542.04 281.24 L544.03 282.17 L546.04 283.10 L548.05 283.98 L550.07 284.72 L552.08 285.36 L554.08 285.96 L556.08 286.58 L558.07 287.23 L560.07 287.91 L562.07 288.60 L564.06 289.32 L566.06 290.07 L568.06 290.82 L570.06 291.58 L572.06 292.34 L574.05 293.13 L576.05 293.93 L578.04 294.77 L580.02 295.71 L582.00 296.82 L583.99 298.06 L585.98 299.35 L587.98 300.67 L589.77 301.90 L590.17 302.18 L590.57 302.46 L590.97 302.74 L591.36 303.03 L591.75 303.33 L592.14 303.66 L592.54 303.99 L592.93 304.34 L593.33 304.70 L593.72 305.07 L594.12 305.46 L594.51 305.87 L594.90 306.29 L595.30 306.74 L595.69 307.21 L596.08 307.71 L596.47 308.24 L596.87 308.82 L597.26 309.42 L597.64 310.13 L598.03 311.03 L598.41 312.24 L598.81 313.87 L599.22 316.74 L600.07 318.02 L600.73 317.58 L599.98 316.45 L599.59 313.71 L599.19 312.02 L598.77 310.75 L598.36 309.78 L597.94 309.01 L597.53 308.37 L597.13 307.78 L596.72 307.22 L596.31 306.70 L595.90 306.21 L595.50 305.76 L595.09 305.32 L594.68 304.90 L594.28 304.50 L593.87 304.11 L593.47 303.74 L593.06 303.39 L592.66 303.04 L592.25 302.71 L591.84 302.39 L591.43 302.09 L591.03 301.80 L590.63 301.53 L590.23 301.25 L588.42 300.00 L586.42 298.68 L584.41 297.39 L582.40 296.13 L580.38 295.00 L578.36 294.04 L576.35 293.19 L574.35 292.38 L572.34 291.59 L570.34 290.83 L568.34 290.08 L566.34 289.32 L564.34 288.57 L562.33 287.84 L560.33 287.15 L558.33 286.48 L556.32 285.82 L554.32 285.19 L552.32 284.60 L550.33 283.97 L548.35 283.24 L546.36 282.37 L544.37 281.44 L542.36 280.51 L540.35 279.64 L538.32 278.93 L536.31 278.33 L534.30 277.79 L532.30 277.28 L530.30 276.77 L528.31 276.23 L526.31 275.67 L524.31 275.11 L522.31 274.53 L520.31 273.96 L518.31 273.38 L516.31 272.80 L514.31 272.21 L512.31 271.63 L510.31 271.05 L508.31 270.47 L506.31 269.90 L504.31 269.33 L502.31 268.77 L500.31 268.21 L498.30 267.67 L496.30 267.13 L494.30 266.59 L492.30 266.05 L490.30 265.52 L488.30 264.98 L486.30 264.45 L484.30 263.92 L482.30 263.40 L480.30 262.87 L478.30 262.35 L476.30 261.83 L474.30 261.32 L472.30 260.80 L470.30 260.29 L468.30 259.79 L466.30 259.29 L464.30 258.79 L462.30 258.29 L460.29 257.80 L458.29 257.32 L456.29 256.84 L454.29 256.36 L452.29 255.89 L450.29 255.42 L448.29 254.96 L446.29 254.51 L444.29 254.06 L442.29 253.61 L440.29 253.17 L438.29 252.73 L436.28 252.30 L434.28 251.87 L432.28 251.44 L430.28 251.02 L428.28 250.60 L426.28 250.18 L424.28 249.77 L422.28 249.36 L420.28 248.95 L418.28 248.55 L416.28 248.15 L414.28 247.75 L412.28 247.35 L410.28 246.96 L408.28 246.57 L406.28 246.18 L404.28 245.79 L402.28 245.41 L400.27 245.03 L398.27 244.65 L396.27 244.27 L394.27 243.90 L392.27 243.53 L390.27 243.16 L388.27 242.80 L386.27 242.45 L384.27 242.09 L382.27 241.74 L380.27 241.40 L378.27 241.06 L376.27 240.72 L374.27 240.38 L372.27 240.04 L370.27 239.70 L368.27 239.37 L366.27 239.03 L364.27 238.70 L362.27 238.36 L360.27 238.03 L358.27 237.69 L356.27 237.35 L354.27 237.01 L352.27 236.67 L350.27 236.32 L348.27 235.97 L346.27 235.62 L344.27 235.26 L342.27 234.90 L340.27 234.52 L338.28 234.13 L336.28 233.74 L334.28 233.34 L332.28 232.94 L330.28 232.53 L328.28 232.13 L326.28 231.73 L324.28 231.34 L322.27 230.95 L320.27 230.58 L318.27 230.22 L316.27 229.88 L314.26 229.56 L312.26 229.26 L310.25 228.99 L308.25 228.74 L306.25 228.50 L304.24 228.28 L302.24 228.06 L300.24 227.84 L298.25 227.61 L296.25 227.38 L294.25 227.12 L292.26 226.85 L290.26 226.54 L288.26 226.23 L286.27 225.89 L284.27 225.55 L282.27 225.19 L280.27 224.81 L278.28 224.43 L276.28 224.03 L274.28 223.63 L272.28 223.21 L270.28 222.79 L268.28 222.36 L266.29 221.92 L264.29 221.48 L262.29 221.04 L260.29 220.59 L258.29 220.14 L256.29 219.69 L254.29 219.23 L252.29 218.78 L250.29 218.33 L248.29 217.89 L246.29 217.44 L244.29 217.01 L242.28 216.57 L240.28 216.15 L238.28 215.72 L236.28 215.30 L234.28 214.88 L232.28 214.46 L230.28 214.04 L228.28 213.63 L226.28 213.21 L224.28 212.79 L222.28 212.37 L220.28 211.94 L218.28 211.52 L216.28 211.10 L214.28 210.67 L212.28 210.24 L210.28 209.81 L208.29 209.38 L206.29 208.94 L204.29 208.50 L202.29 208.05 L200.29 207.60 L198.29 207.15 L196.29 206.69 L194.29 206.23 L192.29 205.76 L190.29 205.28 L188.29 204.80 L186.29 204.32 L184.29 203.84 L182.29 203.36 L180.29 202.88 L178.29 202.39 L176.30 201.90 L174.30 201.41 L172.30 200.92 L170.30 200.42 L168.30 199.91 L166.30 199.40 L164.30 198.89 L162.30 198.36 L160.30 197.84 L158.30 197.30 L156.31 196.76 L154.31 196.20 L152.31 195.64 L150.31 195.07 L148.31 194.49 L146.31 193.89 L144.32 193.29 L142.32 192.67 L140.32 192.05 L138.32 191.41 L136.33 190.74 L134.34 190.03 L132.35 189.26 L130.35 188.47 L128.35 187.65 L126.36 186.80 L124.36 185.96 L122.36 185.11 L120.35 184.27 L118.35 183.45 L116.34 182.65 L114.34 181.90 L112.33 181.19 L110.33 180.52 L108.32 179.85 L106.32 179.20 L104.32 178.57 L102.31 177.96 L100.31 177.39 L98.30 176.85 L96.29 176.36 L94.28 175.91 L92.28 175.52 L90.27 175.15 L88.27 174.78 L86.60 174.47 L86.60 139.20Z" fill="#33b8a1"/><path d="M85.80 139.20 L85.80 179.14 L88.14 179.53 L90.14 179.85 L92.13 180.18 L94.13 180.54 L96.12 180.93 L98.11 181.38 L100.10 181.88 L102.09 182.42 L104.09 182.99 L106.08 183.58 L108.08 184.19 L110.08 184.82 L112.08 185.44 L114.07 186.10 L116.07 186.79 L118.06 187.52 L120.06 188.27 L122.06 189.05 L124.05 189.83 L126.06 190.61 L128.06 191.38 L130.06 192.14 L132.07 192.87 L134.07 193.58 L136.08 194.24 L138.08 194.85 L140.09 195.44 L142.09 196.02 L144.09 196.59 L146.09 197.14 L148.10 197.69 L150.10 198.22 L152.10 198.74 L154.10 199.26 L156.10 199.76 L158.10 200.26 L160.11 200.75 L162.11 201.24 L164.11 201.71 L166.11 202.19 L168.11 202.65 L170.11 203.12 L172.11 203.58 L174.11 204.03 L176.11 204.49 L178.11 204.94 L180.11 205.39 L182.11 205.84 L184.11 206.29 L186.11 206.74 L188.11 207.20 L190.11 207.65 L192.11 208.10 L194.11 208.55 L196.11 208.99 L198.11 209.43 L200.11 209.87 L202.12 210.30 L204.12 210.73 L206.12 211.16 L208.12 211.59 L210.12 212.01 L212.12 212.43 L214.12 212.85 L216.12 213.27 L218.12 213.68 L220.12 214.10 L222.12 214.51 L224.12 214.92 L226.12 215.32 L228.12 215.73 L230.12 216.13 L232.12 216.54 L234.12 216.94 L236.12 217.34 L238.12 217.74 L240.12 218.13 L242.12 218.53 L244.12 218.94 L246.12 219.35 L248.12 219.76 L250.12 220.18 L252.12 220.60 L254.12 221.02 L256.12 221.44 L258.12 221.85 L260.12 222.27 L262.12 222.69 L264.12 223.10 L266.12 223.50 L268.12 223.90 L270.12 224.30 L272.12 224.68 L274.13 225.06 L276.13 225.43 L278.13 225.79 L280.13 226.13 L282.14 226.47 L284.14 226.79 L286.14 227.10 L288.14 227.39 L290.15 227.67 L292.15 227.93 L294.16 228.17 L296.16 228.38 L298.16 228.58 L300.16 228.76 L302.16 228.94 L304.16 229.12 L306.16 229.31 L308.16 229.51 L310.15 229.72 L312.15 229.96 L314.14 230.23 L316.14 230.52 L318.13 230.84 L320.13 231.19 L322.13 231.55 L324.12 231.92 L326.12 232.31 L328.12 232.71 L330.12 233.11 L332.12 233.52 L334.12 233.93 L336.12 234.33 L338.12 234.72 L340.13 235.11 L342.13 235.49 L344.13 235.84 L346.13 236.20 L348.13 236.55 L350.13 236.89 L352.13 237.23 L354.13 237.57 L356.13 237.91 L358.13 238.25 L360.13 238.58 L362.13 238.91 L364.13 239.24 L366.13 239.57 L368.13 239.91 L370.13 240.24 L372.13 240.57 L374.13 240.90 L376.13 241.24 L378.13 241.57 L380.13 241.91 L382.13 242.26 L384.13 242.60 L386.13 242.95 L388.13 243.30 L390.13 243.66 L392.13 244.02 L394.13 244.39 L396.13 244.76 L398.13 245.13 L400.13 245.51 L402.13 245.88 L404.13 246.26 L406.12 246.64 L408.12 247.03 L410.12 247.42 L412.12 247.81 L414.12 248.20 L416.12 248.59 L418.12 248.99 L420.12 249.39 L422.12 249.79 L424.12 250.20 L426.12 250.61 L428.12 251.02 L430.12 251.44 L432.12 251.86 L434.12 252.28 L436.12 252.70 L438.12 253.13 L440.11 253.57 L442.11 254.00 L444.11 254.44 L446.11 254.89 L448.11 255.34 L450.11 255.79 L452.11 256.25 L454.11 256.71 L456.11 257.18 L458.11 257.65 L460.11 258.12 L462.11 258.60 L464.11 259.09 L466.10 259.58 L468.10 260.07 L470.10 260.56 L472.10 261.06 L474.10 261.57 L476.10 262.07 L478.10 262.58 L480.10 263.09 L482.10 263.61 L484.10 264.13 L486.10 264.65 L488.10 265.18 L490.10 265.70 L492.10 266.23 L494.10 266.77 L496.10 267.30 L498.10 267.84 L500.09 268.38 L502.09 268.94 L504.09 269.51 L506.09 270.09 L508.09 270.68 L510.09 271.27 L512.09 271.86 L514.09 272.45 L516.09 273.05 L518.09 273.64 L520.09 274.23 L522.09 274.81 L524.09 275.39 L526.09 275.95 L528.10 276.50 L530.10 277.03 L532.10 277.53 L534.10 278.01 L536.09 278.53 L538.08 279.10 L540.06 279.77 L542.04 280.59 L544.04 281.48 L546.04 282.38 L548.06 283.21 L550.08 283.92 L552.09 284.52 L554.09 285.08 L556.08 285.67 L558.08 286.30 L560.07 286.95 L562.07 287.63 L564.06 288.34 L566.06 289.08 L568.06 289.82 L570.06 290.57 L572.05 291.33 L574.05 292.13 L576.05 292.94 L578.03 293.79 L580.01 294.74 L581.99 295.88 L583.98 297.17 L585.98 298.50 L587.97 299.86 L589.77 301.13 L590.17 301.42 L590.57 301.71 L590.96 302.00 L591.36 302.29 L591.75 302.60 L592.14 302.93 L592.54 303.26 L592.94 303.60 L593.33 303.96 L593.73 304.32 L594.12 304.70 L594.51 305.10 L594.91 305.52 L595.30 305.95 L595.69 306.42 L596.08 306.91 L596.47 307.45 L596.87 308.01 L597.26 308.61 L597.64 309.31 L598.02 310.21 L598.41 311.46 L598.81 313.14 L599.22 316.13 L600.07 317.40 L600.73 316.96 L599.98 315.83 L599.59 313.00 L599.19 311.25 L598.78 309.94 L598.36 308.96 L597.94 308.20 L597.53 307.57 L597.13 306.98 L596.72 306.43 L596.31 305.91 L595.90 305.43 L595.49 304.97 L595.09 304.54 L594.68 304.13 L594.27 303.74 L593.87 303.36 L593.46 303.00 L593.06 302.65 L592.66 302.31 L592.25 301.98 L591.84 301.66 L591.44 301.35 L591.03 301.06 L590.63 300.77 L590.23 300.48 L588.43 299.20 L586.42 297.84 L584.42 296.50 L582.41 295.20 L580.39 294.03 L578.37 293.06 L576.35 292.20 L574.35 291.39 L572.35 290.59 L570.34 289.82 L568.34 289.08 L566.34 288.33 L564.34 287.59 L562.33 286.87 L560.33 286.19 L558.32 285.54 L556.32 284.90 L554.31 284.31 L552.31 283.75 L550.32 283.16 L548.34 282.47 L546.36 281.64 L544.36 280.75 L542.36 279.85 L540.34 279.02 L538.32 278.34 L536.31 277.76 L534.30 277.24 L532.30 276.75 L530.30 276.26 L528.30 275.73 L526.31 275.18 L524.31 274.62 L522.31 274.04 L520.31 273.46 L518.31 272.87 L516.31 272.28 L514.31 271.69 L512.31 271.09 L510.31 270.50 L508.31 269.91 L506.31 269.32 L504.31 268.75 L502.31 268.17 L500.31 267.61 L498.30 267.07 L496.30 266.53 L494.30 265.99 L492.30 265.46 L490.30 264.93 L488.30 264.40 L486.30 263.88 L484.30 263.35 L482.30 262.84 L480.30 262.32 L478.30 261.81 L476.30 261.30 L474.30 260.79 L472.30 260.29 L470.30 259.79 L468.30 259.29 L466.30 258.80 L464.29 258.31 L462.29 257.83 L460.29 257.35 L458.29 256.87 L456.29 256.40 L454.29 255.93 L452.29 255.47 L450.29 255.01 L448.29 254.56 L446.29 254.11 L444.29 253.66 L442.29 253.22 L440.29 252.79 L438.28 252.35 L436.28 251.92 L434.28 251.50 L432.28 251.07 L430.28 250.65 L428.28 250.24 L426.28 249.83 L424.28 249.42 L422.28 249.01 L420.28 248.61 L418.28 248.21 L416.28 247.81 L414.28 247.41 L412.28 247.02 L410.28 246.63 L408.28 246.24 L406.28 245.86 L404.27 245.48 L402.27 245.10 L400.27 244.72 L398.27 244.34 L396.27 243.97 L394.27 243.60 L392.27 243.23 L390.27 242.87 L388.27 242.51 L386.27 242.16 L384.27 241.81 L382.27 241.47 L380.27 241.13 L378.27 240.79 L376.27 240.45 L374.27 240.11 L372.27 239.78 L370.27 239.45 L368.27 239.12 L366.27 238.78 L364.27 238.45 L362.27 238.12 L360.27 237.79 L358.27 237.46 L356.27 237.12 L354.27 236.78 L352.27 236.45 L350.27 236.10 L348.27 235.76 L346.27 235.41 L344.27 235.06 L342.27 234.70 L340.27 234.33 L338.28 233.94 L336.28 233.54 L334.28 233.14 L332.28 232.73 L330.28 232.33 L328.28 231.92 L326.28 231.53 L324.28 231.14 L322.27 230.76 L320.27 230.40 L318.27 230.05 L316.26 229.73 L314.26 229.44 L312.25 229.17 L310.25 228.93 L308.24 228.71 L306.24 228.51 L304.24 228.33 L302.24 228.15 L300.24 227.97 L298.24 227.78 L296.24 227.59 L294.24 227.37 L292.25 227.14 L290.25 226.88 L288.26 226.60 L286.26 226.31 L284.26 226.00 L282.26 225.68 L280.27 225.35 L278.27 225.00 L276.27 224.64 L274.27 224.27 L272.28 223.90 L270.28 223.51 L268.28 223.12 L266.28 222.72 L264.28 222.31 L262.28 221.90 L260.28 221.49 L258.28 221.07 L256.28 220.65 L254.28 220.23 L252.28 219.81 L250.28 219.40 L248.28 218.98 L246.28 218.57 L244.28 218.16 L242.28 217.75 L240.28 217.35 L238.28 216.95 L236.28 216.55 L234.28 216.15 L232.28 215.75 L230.28 215.35 L228.28 214.95 L226.28 214.54 L224.28 214.13 L222.28 213.72 L220.28 213.31 L218.28 212.90 L216.28 212.49 L214.28 212.07 L212.28 211.65 L210.28 211.23 L208.28 210.81 L206.28 210.38 L204.28 209.95 L202.28 209.52 L200.29 209.09 L198.29 208.65 L196.29 208.21 L194.29 207.76 L192.29 207.32 L190.29 206.87 L188.29 206.41 L186.29 205.96 L184.29 205.51 L182.29 205.06 L180.29 204.61 L178.29 204.16 L176.29 203.71 L174.29 203.25 L172.29 202.80 L170.29 202.34 L168.29 201.87 L166.29 201.41 L164.29 200.94 L162.29 200.46 L160.29 199.97 L158.30 199.48 L156.30 198.99 L154.30 198.48 L152.30 197.97 L150.30 197.45 L148.30 196.91 L146.31 196.37 L144.31 195.82 L142.31 195.25 L140.31 194.68 L138.32 194.09 L136.32 193.48 L134.33 192.82 L132.33 192.12 L130.34 191.39 L128.34 190.63 L126.34 189.86 L124.35 189.08 L122.34 188.30 L120.34 187.53 L118.34 186.77 L116.33 186.04 L114.33 185.34 L112.32 184.68 L110.32 184.05 L108.32 183.43 L106.32 182.81 L104.31 182.22 L102.31 181.65 L100.30 181.11 L98.29 180.61 L96.28 180.15 L94.27 179.75 L92.27 179.39 L90.26 179.06 L88.26 178.74 L86.60 178.46 L86.60 139.20Z" fill="#65be86"/><path d="M85.80 139.20 L85.80 183.64 L88.14 184.01 L90.14 184.32 L92.14 184.64 L94.13 184.97 L96.12 185.33 L98.12 185.73 L100.11 186.15 L102.11 186.60 L104.11 187.08 L106.10 187.57 L108.10 188.08 L110.10 188.60 L112.09 189.14 L114.09 189.71 L116.08 190.31 L118.08 190.95 L120.07 191.61 L122.07 192.29 L124.07 192.99 L126.07 193.68 L128.07 194.37 L130.07 195.06 L132.08 195.72 L134.08 196.36 L136.09 196.97 L138.09 197.54 L140.09 198.10 L142.10 198.64 L144.10 199.18 L146.10 199.70 L148.10 200.22 L150.10 200.73 L152.10 201.24 L154.10 201.74 L156.11 202.23 L158.11 202.71 L160.11 203.19 L162.11 203.67 L164.11 204.14 L166.11 204.60 L168.11 205.06 L170.11 205.52 L172.11 205.97 L174.11 206.42 L176.11 206.87 L178.11 207.31 L180.11 207.75 L182.11 208.19 L184.11 208.63 L186.11 209.07 L188.11 209.50 L190.12 209.94 L192.12 210.37 L194.12 210.80 L196.12 211.23 L198.12 211.66 L200.12 212.08 L202.12 212.50 L204.12 212.92 L206.12 213.34 L208.12 213.75 L210.12 214.16 L212.12 214.57 L214.12 214.97 L216.12 215.37 L218.12 215.77 L220.12 216.17 L222.12 216.56 L224.12 216.95 L226.12 217.33 L228.13 217.72 L230.13 218.10 L232.13 218.47 L234.13 218.84 L236.13 219.21 L238.13 219.58 L240.13 219.94 L242.13 220.30 L244.13 220.65 L246.13 221.00 L248.13 221.34 L250.13 221.68 L252.13 222.01 L254.14 222.34 L256.14 222.66 L258.14 222.99 L260.14 223.31 L262.14 223.63 L264.14 223.94 L266.14 224.26 L268.14 224.57 L270.14 224.89 L272.14 225.20 L274.14 225.52 L276.14 225.83 L278.14 226.15 L280.14 226.47 L282.14 226.79 L284.14 227.11 L286.14 227.44 L288.13 227.77 L290.13 228.10 L292.13 228.44 L294.13 228.79 L296.13 229.13 L298.13 229.49 L300.13 229.84 L302.13 230.20 L304.13 230.55 L306.13 230.91 L308.13 231.26 L310.13 231.60 L312.13 231.95 L314.13 232.28 L316.13 232.61 L318.14 232.95 L320.14 233.27 L322.14 233.60 L324.14 233.92 L326.14 234.25 L328.14 234.57 L330.14 234.89 L332.14 235.21 L334.14 235.53 L336.14 235.85 L338.14 236.17 L340.14 236.49 L342.14 236.81 L344.14 237.13 L346.14 237.45 L348.14 237.77 L350.14 238.09 L352.14 238.41 L354.14 238.72 L356.14 239.04 L358.14 239.35 L360.14 239.66 L362.14 239.97 L364.14 240.29 L366.14 240.60 L368.14 240.91 L370.14 241.23 L372.14 241.55 L374.14 241.86 L376.14 242.18 L378.14 242.51 L380.14 242.83 L382.14 243.16 L384.13 243.49 L386.13 243.82 L388.13 244.16 L390.13 244.50 L392.13 244.84 L394.13 245.19 L396.13 245.54 L398.13 245.90 L400.13 246.26 L402.13 246.62 L404.13 246.98 L406.13 247.35 L408.13 247.71 L410.13 248.09 L412.13 248.46 L414.13 248.83 L416.13 249.21 L418.12 249.60 L420.12 249.98 L422.12 250.37 L424.12 250.76 L426.12 251.15 L428.12 251.55 L430.12 251.95 L432.12 252.36 L434.12 252.77 L436.12 253.18 L438.12 253.59 L440.12 254.01 L442.12 254.43 L444.12 254.86 L446.12 255.29 L448.11 255.72 L450.11 256.16 L452.11 256.61 L454.11 257.06 L456.11 257.52 L458.11 257.98 L460.11 258.45 L462.11 258.92 L464.11 259.39 L466.11 259.87 L468.11 260.36 L470.10 260.85 L472.10 261.34 L474.10 261.83 L476.10 262.33 L478.10 262.83 L480.10 263.33 L482.10 263.83 L484.10 264.34 L486.10 264.85 L488.10 265.36 L490.10 265.87 L492.10 266.39 L494.10 266.90 L496.10 267.42 L498.10 267.93 L500.10 268.45 L502.10 268.98 L504.10 269.52 L506.09 270.06 L508.09 270.61 L510.09 271.16 L512.09 271.71 L514.09 272.27 L516.09 272.82 L518.09 273.38 L520.09 273.93 L522.09 274.48 L524.09 275.03 L526.10 275.57 L528.10 276.11 L530.10 276.63 L532.10 277.12 L534.10 277.61 L536.09 278.13 L538.08 278.70 L540.06 279.36 L542.05 280.16 L544.04 281.02 L546.05 281.88 L548.06 282.69 L550.08 283.37 L552.09 283.94 L554.09 284.47 L556.09 285.04 L558.08 285.65 L560.08 286.30 L562.07 286.96 L564.07 287.67 L566.06 288.39 L568.06 289.14 L570.06 289.88 L572.05 290.64 L574.05 291.44 L576.05 292.25 L578.03 293.11 L580.01 294.08 L581.99 295.24 L583.98 296.56 L585.97 297.92 L587.97 299.31 L589.76 300.60 L590.16 300.90 L590.56 301.19 L590.96 301.48 L591.35 301.79 L591.75 302.10 L592.14 302.43 L592.54 302.76 L592.94 303.10 L593.33 303.45 L593.73 303.80 L594.12 304.18 L594.51 304.57 L594.91 304.98 L595.30 305.42 L595.69 305.88 L596.08 306.37 L596.48 306.90 L596.87 307.46 L597.26 308.05 L597.64 308.74 L598.02 309.65 L598.41 310.92 L598.81 312.65 L599.22 315.70 L600.07 316.98 L600.73 316.53 L599.98 315.41 L599.59 312.50 L599.19 310.71 L598.78 309.37 L598.36 308.39 L597.94 307.64 L597.53 307.01 L597.12 306.43 L596.72 305.88 L596.31 305.37 L595.90 304.89 L595.49 304.44 L595.09 304.01 L594.68 303.60 L594.27 303.22 L593.87 302.85 L593.46 302.49 L593.06 302.15 L592.66 301.81 L592.25 301.48 L591.85 301.16 L591.44 300.85 L591.04 300.55 L590.64 300.25 L590.24 299.96 L588.43 298.65 L586.43 297.26 L584.42 295.90 L582.41 294.56 L580.39 293.37 L578.37 292.38 L576.35 291.52 L574.35 290.70 L572.35 289.90 L570.34 289.13 L568.34 288.39 L566.34 287.64 L564.33 286.91 L562.33 286.21 L560.32 285.54 L558.32 284.89 L556.31 284.27 L554.31 283.70 L552.31 283.17 L550.32 282.60 L548.34 281.94 L546.35 281.14 L544.36 280.28 L542.35 279.42 L540.34 278.61 L538.32 277.94 L536.31 277.36 L534.30 276.84 L532.30 276.34 L530.30 275.85 L528.30 275.33 L526.30 274.80 L524.31 274.26 L522.31 273.71 L520.31 273.16 L518.31 272.61 L516.31 272.05 L514.31 271.50 L512.31 270.94 L510.31 270.39 L508.31 269.84 L506.31 269.29 L504.30 268.75 L502.30 268.21 L500.30 267.68 L498.30 267.16 L496.30 266.64 L494.30 266.13 L492.30 265.61 L490.30 265.10 L488.30 264.59 L486.30 264.07 L484.30 263.57 L482.30 263.06 L480.30 262.55 L478.30 262.05 L476.30 261.55 L474.30 261.05 L472.30 260.56 L470.30 260.07 L468.29 259.58 L466.29 259.10 L464.29 258.62 L462.29 258.14 L460.29 257.67 L458.29 257.20 L456.29 256.74 L454.29 256.28 L452.29 255.83 L450.29 255.38 L448.29 254.94 L446.28 254.51 L444.28 254.08 L442.28 253.65 L440.28 253.23 L438.28 252.81 L436.28 252.39 L434.28 251.98 L432.28 251.57 L430.28 251.17 L428.28 250.77 L426.28 250.37 L424.28 249.97 L422.28 249.58 L420.28 249.20 L418.28 248.81 L416.27 248.43 L414.27 248.05 L412.27 247.67 L410.27 247.30 L408.27 246.93 L406.27 246.56 L404.27 246.19 L402.27 245.83 L400.27 245.47 L398.27 245.11 L396.27 244.76 L394.27 244.40 L392.27 244.05 L390.27 243.71 L388.27 243.37 L386.27 243.03 L384.27 242.70 L382.26 242.37 L380.26 242.04 L378.26 241.72 L376.26 241.39 L374.26 241.07 L372.26 240.76 L370.26 240.44 L368.26 240.12 L366.26 239.81 L364.26 239.50 L362.26 239.18 L360.26 238.87 L358.26 238.56 L356.26 238.25 L354.26 237.93 L352.26 237.62 L350.26 237.30 L348.26 236.98 L346.26 236.66 L344.26 236.34 L342.26 236.02 L340.26 235.70 L338.26 235.38 L336.26 235.06 L334.26 234.74 L332.26 234.42 L330.26 234.10 L328.26 233.78 L326.26 233.46 L324.26 233.13 L322.26 232.81 L320.26 232.48 L318.26 232.16 L316.27 231.83 L314.27 231.49 L312.27 231.16 L310.27 230.81 L308.27 230.47 L306.27 230.12 L304.27 229.76 L302.27 229.41 L300.27 229.05 L298.27 228.70 L296.27 228.35 L294.27 228.00 L292.27 227.65 L290.27 227.32 L288.27 226.98 L286.26 226.65 L284.26 226.32 L282.26 226.00 L280.26 225.68 L278.26 225.36 L276.26 225.04 L274.26 224.73 L272.26 224.41 L270.26 224.10 L268.26 223.78 L266.26 223.47 L264.26 223.15 L262.26 222.84 L260.26 222.52 L258.26 222.20 L256.26 221.88 L254.26 221.55 L252.27 221.22 L250.27 220.89 L248.27 220.55 L246.27 220.21 L244.27 219.86 L242.27 219.51 L240.27 219.15 L238.27 218.79 L236.27 218.43 L234.27 218.06 L232.27 217.69 L230.27 217.31 L228.27 216.93 L226.28 216.55 L224.28 216.16 L222.28 215.77 L220.28 215.38 L218.28 214.99 L216.28 214.59 L214.28 214.19 L212.28 213.78 L210.28 213.38 L208.28 212.97 L206.28 212.55 L204.28 212.14 L202.28 211.72 L200.28 211.30 L198.28 210.88 L196.28 210.45 L194.28 210.02 L192.28 209.59 L190.28 209.16 L188.29 208.72 L186.29 208.29 L184.29 207.85 L182.29 207.41 L180.29 206.97 L178.29 206.53 L176.29 206.09 L174.29 205.64 L172.29 205.19 L170.29 204.74 L168.29 204.28 L166.29 203.82 L164.29 203.36 L162.29 202.89 L160.29 202.42 L158.29 201.94 L156.29 201.45 L154.30 200.96 L152.30 200.46 L150.30 199.96 L148.30 199.45 L146.30 198.93 L144.30 198.40 L142.30 197.87 L140.31 197.33 L138.31 196.77 L136.31 196.21 L134.32 195.60 L132.32 194.96 L130.33 194.30 L128.33 193.62 L126.33 192.93 L124.33 192.23 L122.33 191.54 L120.33 190.85 L118.32 190.19 L116.32 189.55 L114.31 188.94 L112.31 188.37 L110.30 187.83 L108.30 187.30 L106.30 186.79 L104.29 186.30 L102.29 185.82 L100.29 185.37 L98.28 184.95 L96.28 184.55 L94.27 184.18 L92.26 183.85 L90.26 183.53 L88.26 183.22 L86.60 182.96 L86.60 139.20Z" fill="#97bf71"/><path d="M85.80 139.20 L85.80 187.65 L88.15 187.97 L90.15 188.23 L92.14 188.50 L94.14 188.80 L96.13 189.13 L98.12 189.52 L100.11 189.97 L102.10 190.46 L104.10 190.98 L106.09 191.52 L108.09 192.06 L110.10 192.61 L112.10 193.14 L114.10 193.67 L116.09 194.21 L118.09 194.76 L120.09 195.32 L122.09 195.89 L124.09 196.45 L126.09 197.02 L128.09 197.58 L130.09 198.14 L132.10 198.68 L134.10 199.21 L136.10 199.73 L138.10 200.23 L140.11 200.72 L142.11 201.20 L144.11 201.68 L146.11 202.15 L148.11 202.62 L150.11 203.08 L152.11 203.54 L154.11 203.99 L156.11 204.44 L158.11 204.89 L160.11 205.33 L162.11 205.76 L164.12 206.20 L166.12 206.63 L168.12 207.06 L170.12 207.48 L172.12 207.91 L174.12 208.33 L176.12 208.74 L178.12 209.16 L180.12 209.57 L182.12 209.99 L184.12 210.40 L186.12 210.81 L188.12 211.22 L190.12 211.62 L192.12 212.03 L194.12 212.44 L196.12 212.84 L198.12 213.24 L200.12 213.64 L202.12 214.04 L204.12 214.44 L206.12 214.83 L208.12 215.22 L210.12 215.61 L212.12 216.00 L214.12 216.39 L216.13 216.77 L218.13 217.15 L220.13 217.53 L222.13 217.90 L224.13 218.27 L226.13 218.64 L228.13 219.01 L230.13 219.37 L232.13 219.73 L234.13 220.09 L236.13 220.45 L238.13 220.80 L240.13 221.14 L242.13 221.49 L244.13 221.82 L246.13 222.16 L248.14 222.49 L250.14 222.81 L252.14 223.13 L254.14 223.45 L256.14 223.76 L258.14 224.07 L260.14 224.38 L262.14 224.69 L264.14 224.99 L266.14 225.30 L268.14 225.60 L270.14 225.90 L272.14 226.21 L274.14 226.51 L276.14 226.82 L278.14 227.12 L280.14 227.43 L282.14 227.74 L284.14 228.06 L286.14 228.37 L288.14 228.69 L290.14 229.01 L292.14 229.34 L294.13 229.67 L296.13 230.01 L298.13 230.34 L300.13 230.68 L302.13 231.02 L304.13 231.37 L306.13 231.71 L308.13 232.05 L310.13 232.40 L312.13 232.74 L314.13 233.09 L316.13 233.44 L318.13 233.79 L320.13 234.15 L322.13 234.50 L324.13 234.86 L326.13 235.21 L328.13 235.57 L330.13 235.93 L332.13 236.28 L334.13 236.63 L336.13 236.98 L338.13 237.33 L340.13 237.67 L342.13 238.00 L344.14 238.33 L346.14 238.66 L348.14 238.98 L350.14 239.30 L352.14 239.61 L354.14 239.92 L356.14 240.23 L358.14 240.53 L360.14 240.83 L362.14 241.13 L364.14 241.43 L366.14 241.73 L368.14 242.03 L370.14 242.33 L372.14 242.63 L374.14 242.93 L376.14 243.23 L378.14 243.53 L380.14 243.84 L382.14 244.15 L384.14 244.46 L386.14 244.78 L388.14 245.10 L390.14 245.43 L392.13 245.76 L394.13 246.10 L396.13 246.44 L398.13 246.78 L400.13 247.13 L402.13 247.48 L404.13 247.84 L406.13 248.19 L408.13 248.55 L410.13 248.91 L412.13 249.28 L414.13 249.65 L416.13 250.02 L418.13 250.39 L420.13 250.77 L422.12 251.15 L424.12 251.53 L426.12 251.92 L428.12 252.31 L430.12 252.71 L432.12 253.10 L434.12 253.50 L436.12 253.91 L438.12 254.32 L440.12 254.73 L442.12 255.15 L444.12 255.57 L446.12 255.99 L448.12 256.42 L450.11 256.86 L452.11 257.30 L454.11 257.75 L456.11 258.21 L458.11 258.67 L460.11 259.14 L462.11 259.61 L464.11 260.09 L466.11 260.57 L468.11 261.05 L470.10 261.54 L472.10 262.03 L474.10 262.53 L476.10 263.03 L478.10 263.53 L480.10 264.03 L482.10 264.53 L484.10 265.03 L486.10 265.53 L488.10 266.03 L490.10 266.53 L492.10 267.04 L494.10 267.53 L496.10 268.03 L498.10 268.53 L500.10 269.02 L502.10 269.53 L504.10 270.03 L506.10 270.54 L508.10 271.05 L510.10 271.56 L512.10 272.07 L514.10 272.58 L516.10 273.09 L518.10 273.60 L520.10 274.11 L522.10 274.61 L524.10 275.12 L526.10 275.62 L528.11 276.11 L530.11 276.60 L532.11 277.05 L534.11 277.51 L536.10 277.99 L538.09 278.52 L540.07 279.13 L542.05 279.88 L544.05 280.69 L546.05 281.50 L548.07 282.26 L550.09 282.91 L552.10 283.46 L554.10 283.97 L556.09 284.52 L558.08 285.13 L560.08 285.76 L562.07 286.42 L564.07 287.11 L566.06 287.84 L568.06 288.57 L570.06 289.32 L572.05 290.08 L574.05 290.88 L576.04 291.69 L578.03 292.56 L580.01 293.53 L581.99 294.71 L583.97 296.06 L585.97 297.44 L587.97 298.85 L589.76 300.17 L590.16 300.47 L590.56 300.76 L590.96 301.07 L591.35 301.37 L591.75 301.69 L592.15 302.02 L592.54 302.35 L592.94 302.68 L593.34 303.03 L593.73 303.38 L594.12 303.75 L594.52 304.14 L594.91 304.55 L595.30 304.98 L595.69 305.44 L596.08 305.93 L596.48 306.45 L596.87 307.01 L597.26 307.59 L597.64 308.28 L598.02 309.19 L598.41 310.48 L598.81 312.24 L599.22 315.35 L600.07 316.63 L600.73 316.19 L599.98 315.06 L599.59 312.10 L599.19 310.28 L598.78 308.92 L598.36 307.93 L597.94 307.18 L597.53 306.56 L597.12 305.98 L596.72 305.44 L596.31 304.93 L595.90 304.45 L595.49 304.00 L595.08 303.57 L594.68 303.17 L594.27 302.79 L593.86 302.43 L593.46 302.08 L593.06 301.74 L592.65 301.40 L592.25 301.07 L591.85 300.75 L591.44 300.43 L591.04 300.13 L590.64 299.83 L590.24 299.53 L588.43 298.20 L586.43 296.79 L584.43 295.40 L582.41 294.04 L580.39 292.83 L578.37 291.83 L576.36 290.96 L574.35 290.14 L572.35 289.33 L570.34 288.57 L568.34 287.82 L566.34 287.08 L564.33 286.36 L562.33 285.66 L560.32 285.00 L558.32 284.36 L556.31 283.76 L554.30 283.20 L552.30 282.68 L550.31 282.14 L548.33 281.51 L546.35 280.76 L544.35 279.95 L542.35 279.13 L540.33 278.38 L538.31 277.75 L536.30 277.21 L534.29 276.73 L532.29 276.27 L530.29 275.82 L528.29 275.34 L526.30 274.84 L524.30 274.34 L522.30 273.84 L520.30 273.33 L518.30 272.82 L516.30 272.31 L514.30 271.80 L512.30 271.29 L510.30 270.78 L508.30 270.27 L506.30 269.76 L504.30 269.25 L502.30 268.75 L500.30 268.25 L498.30 267.75 L496.30 267.26 L494.30 266.76 L492.30 266.26 L490.30 265.76 L488.30 265.26 L486.30 264.76 L484.30 264.25 L482.30 263.75 L480.30 263.25 L478.30 262.75 L476.30 262.25 L474.30 261.75 L472.30 261.26 L470.30 260.77 L468.29 260.28 L466.29 259.79 L464.29 259.31 L462.29 258.83 L460.29 258.36 L458.29 257.89 L456.29 257.43 L454.29 256.97 L452.29 256.52 L450.29 256.07 L448.28 255.64 L446.28 255.21 L444.28 254.78 L442.28 254.36 L440.28 253.95 L438.28 253.53 L436.28 253.13 L434.28 252.72 L432.28 252.32 L430.28 251.92 L428.28 251.53 L426.28 251.14 L424.28 250.75 L422.28 250.36 L420.27 249.98 L418.27 249.61 L416.27 249.23 L414.27 248.86 L412.27 248.49 L410.27 248.13 L408.27 247.76 L406.27 247.41 L404.27 247.05 L402.27 246.69 L400.27 246.34 L398.27 246.00 L396.27 245.65 L394.27 245.31 L392.27 244.97 L390.26 244.64 L388.26 244.31 L386.26 243.99 L384.26 243.67 L382.26 243.36 L380.26 243.05 L378.26 242.74 L376.26 242.44 L374.26 242.14 L372.26 241.84 L370.26 241.54 L368.26 241.24 L366.26 240.94 L364.26 240.64 L362.26 240.34 L360.26 240.04 L358.26 239.74 L356.26 239.44 L354.26 239.13 L352.26 238.82 L350.26 238.51 L348.26 238.19 L346.26 237.87 L344.26 237.55 L342.27 237.21 L340.27 236.88 L338.27 236.54 L336.27 236.19 L334.27 235.84 L332.27 235.49 L330.27 235.14 L328.27 234.78 L326.27 234.43 L324.27 234.07 L322.27 233.71 L320.27 233.36 L318.27 233.00 L316.27 232.65 L314.27 232.30 L312.27 231.96 L310.27 231.61 L308.27 231.27 L306.27 230.92 L304.27 230.58 L302.27 230.23 L300.27 229.89 L298.27 229.55 L296.27 229.22 L294.27 228.88 L292.26 228.55 L290.26 228.22 L288.26 227.90 L286.26 227.58 L284.26 227.26 L282.26 226.95 L280.26 226.64 L278.26 226.33 L276.26 226.03 L274.26 225.72 L272.26 225.42 L270.26 225.11 L268.26 224.81 L266.26 224.51 L264.26 224.20 L262.26 223.90 L260.26 223.59 L258.26 223.28 L256.26 222.97 L254.26 222.66 L252.26 222.34 L250.26 222.02 L248.26 221.70 L246.27 221.37 L244.27 221.04 L242.27 220.70 L240.27 220.36 L238.27 220.01 L236.27 219.66 L234.27 219.30 L232.27 218.95 L230.27 218.59 L228.27 218.22 L226.27 217.86 L224.27 217.49 L222.27 217.12 L220.27 216.74 L218.27 216.36 L216.27 215.98 L214.28 215.60 L212.28 215.22 L210.28 214.83 L208.28 214.44 L206.28 214.05 L204.28 213.65 L202.28 213.26 L200.28 212.86 L198.28 212.46 L196.28 212.06 L194.28 211.65 L192.28 211.25 L190.28 210.84 L188.28 210.43 L186.28 210.02 L184.28 209.61 L182.28 209.20 L180.28 208.79 L178.28 208.38 L176.28 207.96 L174.28 207.54 L172.28 207.12 L170.28 206.70 L168.28 206.28 L166.28 205.85 L164.28 205.42 L162.29 204.98 L160.29 204.55 L158.29 204.10 L156.29 203.66 L154.29 203.21 L152.29 202.76 L150.29 202.30 L148.29 201.84 L146.29 201.37 L144.29 200.90 L142.29 200.42 L140.29 199.94 L138.30 199.45 L136.30 198.95 L134.30 198.44 L132.30 197.91 L130.31 197.36 L128.31 196.81 L126.31 196.25 L124.31 195.68 L122.31 195.12 L120.31 194.55 L118.31 193.99 L116.31 193.44 L114.30 192.90 L112.30 192.37 L110.30 191.84 L108.31 191.29 L106.31 190.74 L104.30 190.20 L102.30 189.68 L100.29 189.19 L98.28 188.74 L96.27 188.34 L94.26 188.01 L92.26 187.71 L90.25 187.44 L88.25 187.18 L86.60 186.95 L86.60 139.20Z" fill="#c0bc60"/><path d="M85.80 139.20 L85.80 191.66 L88.15 191.93 L90.16 192.15 L92.15 192.38 L94.15 192.63 L96.13 192.93 L98.12 193.29 L100.11 193.72 L102.10 194.21 L104.10 194.73 L106.10 195.27 L108.10 195.81 L110.10 196.34 L112.11 196.84 L114.11 197.32 L116.11 197.79 L118.11 198.27 L120.11 198.75 L122.11 199.22 L124.11 199.70 L126.11 200.17 L128.11 200.64 L130.11 201.10 L132.11 201.56 L134.11 202.02 L136.11 202.47 L138.11 202.92 L140.11 203.36 L142.11 203.80 L144.11 204.24 L146.11 204.68 L148.11 205.12 L150.12 205.56 L152.12 205.99 L154.12 206.42 L156.12 206.85 L158.12 207.28 L160.12 207.70 L162.12 208.13 L164.12 208.55 L166.12 208.97 L168.12 209.38 L170.12 209.80 L172.12 210.21 L174.12 210.62 L176.12 211.03 L178.12 211.43 L180.12 211.84 L182.12 212.24 L184.12 212.64 L186.12 213.03 L188.12 213.42 L190.12 213.82 L192.12 214.20 L194.12 214.59 L196.12 214.98 L198.12 215.37 L200.12 215.75 L202.13 216.13 L204.13 216.51 L206.13 216.89 L208.13 217.27 L210.13 217.64 L212.13 218.02 L214.13 218.39 L216.13 218.75 L218.13 219.12 L220.13 219.48 L222.13 219.84 L224.13 220.20 L226.13 220.55 L228.13 220.91 L230.13 221.25 L232.13 221.60 L234.13 221.94 L236.13 222.28 L238.13 222.62 L240.13 222.95 L242.14 223.27 L244.14 223.60 L246.14 223.92 L248.14 224.23 L250.14 224.55 L252.14 224.86 L254.14 225.16 L256.14 225.47 L258.14 225.77 L260.14 226.07 L262.14 226.37 L264.14 226.66 L266.14 226.96 L268.14 227.25 L270.14 227.54 L272.14 227.83 L274.14 228.12 L276.14 228.41 L278.14 228.70 L280.14 228.99 L282.14 229.28 L284.14 229.57 L286.14 229.86 L288.14 230.15 L290.14 230.44 L292.14 230.74 L294.14 231.03 L296.14 231.32 L298.14 231.60 L300.14 231.88 L302.14 232.16 L304.14 232.45 L306.14 232.74 L308.14 233.03 L310.14 233.34 L312.14 233.65 L314.14 233.97 L316.13 234.31 L318.13 234.65 L320.13 235.00 L322.13 235.36 L324.13 235.73 L326.13 236.10 L328.13 236.47 L330.13 236.84 L332.13 237.21 L334.13 237.58 L336.13 237.95 L338.13 238.31 L340.13 238.66 L342.13 239.00 L344.13 239.34 L346.14 239.66 L348.14 239.98 L350.14 240.30 L352.14 240.61 L354.14 240.92 L356.14 241.22 L358.14 241.52 L360.14 241.82 L362.14 242.12 L364.14 242.41 L366.14 242.70 L368.14 243.00 L370.14 243.29 L372.14 243.58 L374.14 243.88 L376.14 244.18 L378.14 244.47 L380.14 244.78 L382.14 245.08 L384.14 245.39 L386.14 245.70 L388.14 246.01 L390.14 246.34 L392.13 246.66 L394.13 247.00 L396.13 247.34 L398.13 247.68 L400.13 248.02 L402.13 248.37 L404.13 248.72 L406.13 249.07 L408.13 249.42 L410.13 249.78 L412.13 250.14 L414.13 250.51 L416.13 250.87 L418.13 251.24 L420.13 251.62 L422.13 251.99 L424.13 252.37 L426.12 252.75 L428.12 253.14 L430.12 253.53 L432.12 253.93 L434.12 254.32 L436.12 254.72 L438.12 255.13 L440.12 255.54 L442.12 255.95 L444.12 256.37 L446.12 256.79 L448.12 257.22 L450.11 257.65 L452.11 258.10 L454.11 258.55 L456.11 259.02 L458.11 259.49 L460.11 259.96 L462.11 260.44 L464.11 260.93 L466.10 261.42 L468.10 261.91 L470.10 262.41 L472.10 262.91 L474.10 263.41 L476.10 263.91 L478.10 264.41 L480.10 264.91 L482.10 265.42 L484.10 265.92 L486.10 266.41 L488.10 266.91 L490.10 267.40 L492.11 267.89 L494.11 268.37 L496.11 268.85 L498.11 269.32 L500.11 269.79 L502.11 270.26 L504.11 270.72 L506.11 271.19 L508.11 271.65 L510.11 272.11 L512.11 272.57 L514.11 273.03 L516.11 273.49 L518.11 273.95 L520.11 274.41 L522.11 274.86 L524.11 275.32 L526.11 275.77 L528.11 276.22 L530.12 276.66 L532.12 277.08 L534.12 277.50 L536.11 277.94 L538.10 278.43 L540.08 279.00 L542.06 279.70 L544.06 280.45 L546.06 281.22 L548.07 281.94 L550.09 282.56 L552.10 283.08 L554.10 283.59 L556.09 284.13 L558.08 284.72 L560.08 285.34 L562.07 286.00 L564.07 286.68 L566.06 287.40 L568.06 288.14 L570.06 288.88 L572.05 289.64 L574.05 290.44 L576.04 291.26 L578.03 292.12 L580.01 293.11 L581.98 294.31 L583.97 295.67 L585.97 297.07 L587.96 298.50 L589.76 299.83 L590.16 300.13 L590.56 300.43 L590.95 300.74 L591.35 301.05 L591.75 301.37 L592.15 301.70 L592.54 302.03 L592.94 302.36 L593.34 302.70 L593.73 303.05 L594.12 303.42 L594.52 303.80 L594.91 304.21 L595.30 304.63 L595.69 305.09 L596.08 305.58 L596.48 306.10 L596.87 306.66 L597.26 307.24 L597.64 307.92 L598.02 308.83 L598.41 310.14 L598.81 311.92 L599.22 315.08 L600.07 316.36 L600.73 315.91 L599.98 314.79 L599.59 311.79 L599.19 309.94 L598.78 308.56 L598.36 307.57 L597.94 306.82 L597.53 306.21 L597.12 305.63 L596.72 305.09 L596.31 304.58 L595.90 304.10 L595.49 303.66 L595.08 303.24 L594.68 302.84 L594.27 302.46 L593.86 302.10 L593.46 301.75 L593.06 301.42 L592.65 301.08 L592.25 300.75 L591.85 300.43 L591.45 300.11 L591.04 299.80 L590.64 299.49 L590.24 299.19 L588.44 297.85 L586.43 296.42 L584.43 295.01 L582.42 293.63 L580.39 292.41 L578.37 291.40 L576.36 290.52 L574.35 289.70 L572.35 288.90 L570.34 288.13 L568.34 287.39 L566.34 286.65 L564.33 285.93 L562.33 285.24 L560.32 284.58 L558.32 283.95 L556.31 283.36 L554.30 282.81 L552.30 282.31 L550.31 281.79 L548.33 281.18 L546.34 280.47 L544.34 279.70 L542.34 278.94 L540.32 278.24 L538.30 277.66 L536.29 277.16 L534.28 276.72 L532.28 276.30 L530.28 275.88 L528.29 275.44 L526.29 274.99 L524.29 274.54 L522.29 274.08 L520.29 273.63 L518.29 273.17 L516.29 272.71 L514.29 272.25 L512.29 271.79 L510.29 271.33 L508.29 270.87 L506.29 270.41 L504.29 269.94 L502.29 269.48 L500.29 269.01 L498.29 268.54 L496.29 268.07 L494.29 267.59 L492.29 267.11 L490.30 266.62 L488.30 266.13 L486.30 265.64 L484.30 265.14 L482.30 264.64 L480.30 264.14 L478.30 263.64 L476.30 263.13 L474.30 262.63 L472.30 262.13 L470.30 261.63 L468.30 261.13 L466.30 260.64 L464.29 260.15 L462.29 259.66 L460.29 259.18 L458.29 258.71 L456.29 258.24 L454.29 257.78 L452.29 257.32 L450.29 256.87 L448.28 256.44 L446.28 256.01 L444.28 255.59 L442.28 255.17 L440.28 254.75 L438.28 254.35 L436.28 253.94 L434.28 253.54 L432.28 253.14 L430.28 252.75 L428.28 252.36 L426.28 251.97 L424.27 251.59 L422.27 251.21 L420.27 250.83 L418.27 250.46 L416.27 250.09 L414.27 249.72 L412.27 249.36 L410.27 248.99 L408.27 248.64 L406.27 248.28 L404.27 247.93 L402.27 247.58 L400.27 247.23 L398.27 246.89 L396.27 246.55 L394.27 246.21 L392.27 245.87 L390.26 245.55 L388.26 245.22 L386.26 244.91 L384.26 244.60 L382.26 244.29 L380.26 243.98 L378.26 243.68 L376.26 243.38 L374.26 243.09 L372.26 242.79 L370.26 242.50 L368.26 242.21 L366.26 241.91 L364.26 241.62 L362.26 241.33 L360.26 241.03 L358.26 240.73 L356.26 240.43 L354.26 240.13 L352.26 239.82 L350.26 239.51 L348.26 239.19 L346.26 238.87 L344.27 238.55 L342.27 238.21 L340.27 237.87 L338.27 237.52 L336.27 237.16 L334.27 236.79 L332.27 236.43 L330.27 236.06 L328.27 235.68 L326.27 235.31 L324.27 234.94 L322.27 234.58 L320.27 234.22 L318.27 233.86 L316.27 233.52 L314.26 233.18 L312.26 232.86 L310.26 232.55 L308.26 232.24 L306.26 231.95 L304.26 231.66 L302.26 231.37 L300.26 231.09 L298.26 230.81 L296.26 230.52 L294.26 230.24 L292.26 229.95 L290.26 229.65 L288.26 229.36 L286.26 229.07 L284.26 228.78 L282.26 228.49 L280.26 228.20 L278.26 227.91 L276.26 227.62 L274.26 227.33 L272.26 227.04 L270.26 226.75 L268.26 226.46 L266.26 226.16 L264.26 225.87 L262.26 225.57 L260.26 225.28 L258.26 224.98 L256.26 224.68 L254.26 224.37 L252.26 224.07 L250.26 223.76 L248.26 223.44 L246.26 223.13 L244.26 222.81 L242.26 222.49 L240.27 222.16 L238.27 221.83 L236.27 221.49 L234.27 221.15 L232.27 220.81 L230.27 220.47 L228.27 220.12 L226.27 219.77 L224.27 219.41 L222.27 219.05 L220.27 218.69 L218.27 218.33 L216.27 217.97 L214.27 217.60 L212.27 217.23 L210.27 216.86 L208.27 216.48 L206.27 216.11 L204.27 215.73 L202.27 215.35 L200.28 214.96 L198.28 214.58 L196.28 214.19 L194.28 213.81 L192.28 213.42 L190.28 213.03 L188.28 212.64 L186.28 212.25 L184.28 211.85 L182.28 211.45 L180.28 211.05 L178.28 210.65 L176.28 210.24 L174.28 209.84 L172.28 209.43 L170.28 209.01 L168.28 208.60 L166.28 208.18 L164.28 207.76 L162.28 207.34 L160.28 206.92 L158.28 206.49 L156.28 206.07 L154.28 205.64 L152.28 205.21 L150.28 204.77 L148.29 204.34 L146.29 203.90 L144.29 203.46 L142.29 203.02 L140.29 202.58 L138.29 202.14 L136.29 201.69 L134.29 201.24 L132.29 200.78 L130.29 200.32 L128.29 199.86 L126.29 199.39 L124.29 198.92 L122.29 198.45 L120.29 197.97 L118.29 197.49 L116.29 197.02 L114.29 196.54 L112.29 196.06 L110.30 195.56 L108.30 195.04 L106.30 194.50 L104.30 193.96 L102.30 193.43 L100.29 192.94 L98.28 192.51 L96.27 192.14 L94.25 191.84 L92.25 191.59 L90.24 191.36 L88.25 191.14 L86.60 190.94 L86.60 139.20Z" fill="#e5b950"/><path d="M85.80 139.20 L85.80 195.37 L88.17 195.57 L90.17 195.73 L92.16 195.90 L94.16 196.09 L96.15 196.32 L98.13 196.64 L100.11 197.05 L102.10 197.53 L104.10 198.05 L106.09 198.59 L108.10 199.14 L110.10 199.66 L112.11 200.13 L114.11 200.58 L116.11 201.02 L118.12 201.45 L120.12 201.88 L122.12 202.30 L124.12 202.72 L126.12 203.14 L128.12 203.55 L130.12 203.97 L132.12 204.38 L134.12 204.79 L136.12 205.20 L138.12 205.61 L140.12 206.02 L142.12 206.43 L144.12 206.85 L146.12 207.26 L148.12 207.68 L150.12 208.09 L152.12 208.50 L154.12 208.91 L156.12 209.33 L158.12 209.74 L160.12 210.15 L162.12 210.55 L164.12 210.96 L166.12 211.36 L168.12 211.77 L170.12 212.17 L172.12 212.57 L174.12 212.96 L176.12 213.35 L178.12 213.74 L180.12 214.13 L182.13 214.51 L184.13 214.89 L186.13 215.26 L188.13 215.64 L190.13 216.00 L192.13 216.37 L194.13 216.73 L196.13 217.09 L198.13 217.44 L200.13 217.80 L202.13 218.15 L204.13 218.50 L206.13 218.85 L208.13 219.20 L210.13 219.54 L212.13 219.88 L214.13 220.22 L216.13 220.56 L218.13 220.89 L220.13 221.22 L222.13 221.56 L224.14 221.88 L226.14 222.21 L228.14 222.54 L230.14 222.86 L232.14 223.18 L234.14 223.50 L236.14 223.82 L238.14 224.14 L240.14 224.45 L242.14 224.76 L244.14 225.07 L246.14 225.38 L248.14 225.68 L250.14 225.98 L252.14 226.28 L254.14 226.58 L256.14 226.88 L258.14 227.17 L260.14 227.46 L262.14 227.76 L264.14 228.04 L266.14 228.33 L268.14 228.62 L270.14 228.91 L272.14 229.19 L274.14 229.48 L276.14 229.76 L278.14 230.05 L280.14 230.33 L282.14 230.61 L284.14 230.90 L286.14 231.18 L288.14 231.47 L290.14 231.75 L292.14 232.04 L294.14 232.32 L296.15 232.60 L298.15 232.87 L300.15 233.14 L302.15 233.42 L304.14 233.69 L306.14 233.97 L308.14 234.26 L310.14 234.55 L312.14 234.85 L314.14 235.16 L316.14 235.48 L318.13 235.82 L320.13 236.15 L322.13 236.50 L324.13 236.85 L326.13 237.21 L328.13 237.56 L330.13 237.92 L332.13 238.28 L334.13 238.63 L336.13 238.98 L338.13 239.33 L340.13 239.67 L342.14 240.01 L344.14 240.33 L346.14 240.65 L348.14 240.97 L350.14 241.27 L352.14 241.58 L354.14 241.88 L356.14 242.18 L358.14 242.48 L360.14 242.77 L362.14 243.06 L364.14 243.35 L366.14 243.65 L368.14 243.94 L370.14 244.23 L372.14 244.52 L374.14 244.81 L376.14 245.10 L378.14 245.40 L380.14 245.70 L382.14 246.00 L384.14 246.30 L386.14 246.61 L388.14 246.93 L390.14 247.24 L392.14 247.57 L394.13 247.90 L396.13 248.23 L398.13 248.57 L400.13 248.91 L402.13 249.25 L404.13 249.60 L406.13 249.95 L408.13 250.30 L410.13 250.65 L412.13 251.01 L414.13 251.36 L416.13 251.73 L418.13 252.09 L420.13 252.46 L422.13 252.83 L424.13 253.21 L426.13 253.59 L428.12 253.97 L430.12 254.36 L432.12 254.75 L434.12 255.14 L436.12 255.54 L438.12 255.94 L440.12 256.35 L442.12 256.76 L444.12 257.17 L446.12 257.59 L448.12 258.02 L450.11 258.45 L452.11 258.90 L454.11 259.36 L456.11 259.82 L458.11 260.30 L460.11 260.78 L462.10 261.26 L464.10 261.76 L466.10 262.25 L468.10 262.75 L470.10 263.26 L472.10 263.76 L474.10 264.27 L476.10 264.77 L478.10 265.28 L480.10 265.78 L482.10 266.28 L484.10 266.78 L486.10 267.28 L488.11 267.77 L490.11 268.25 L492.11 268.73 L494.11 269.20 L496.11 269.66 L498.11 270.12 L500.11 270.57 L502.11 271.01 L504.11 271.45 L506.11 271.89 L508.11 272.33 L510.12 272.76 L512.12 273.20 L514.12 273.62 L516.12 274.05 L518.12 274.47 L520.12 274.89 L522.12 275.30 L524.12 275.72 L526.12 276.13 L528.12 276.53 L530.13 276.92 L532.13 277.28 L534.13 277.64 L536.12 278.03 L538.11 278.45 L540.09 278.96 L542.08 279.58 L544.07 280.26 L546.07 280.96 L548.08 281.62 L550.10 282.20 L552.10 282.71 L554.10 283.20 L556.09 283.73 L558.08 284.31 L560.08 284.93 L562.07 285.57 L564.07 286.25 L566.06 286.97 L568.06 287.70 L570.06 288.44 L572.05 289.20 L574.05 290.00 L576.04 290.82 L578.03 291.69 L580.01 292.68 L581.98 293.90 L583.97 295.28 L585.97 296.70 L587.96 298.15 L589.76 299.49 L590.16 299.80 L590.55 300.11 L590.95 300.42 L591.35 300.73 L591.75 301.06 L592.15 301.38 L592.55 301.71 L592.94 302.04 L593.34 302.38 L593.73 302.72 L594.13 303.08 L594.52 303.46 L594.91 303.87 L595.30 304.29 L595.69 304.75 L596.08 305.23 L596.48 305.76 L596.87 306.31 L597.26 306.88 L597.64 307.56 L598.02 308.47 L598.41 309.79 L598.81 311.61 L599.22 314.81 L600.07 316.09 L600.73 315.64 L599.98 314.52 L599.59 311.47 L599.19 309.60 L598.78 308.20 L598.36 307.21 L597.94 306.46 L597.53 305.85 L597.12 305.28 L596.72 304.74 L596.31 304.24 L595.90 303.76 L595.49 303.32 L595.08 302.90 L594.67 302.50 L594.27 302.13 L593.86 301.77 L593.46 301.43 L593.05 301.09 L592.65 300.77 L592.25 300.44 L591.85 300.11 L591.45 299.79 L591.05 299.47 L590.64 299.16 L590.24 298.86 L588.44 297.50 L586.43 296.05 L584.43 294.63 L582.42 293.23 L580.39 291.98 L578.37 290.97 L576.36 290.09 L574.35 289.26 L572.35 288.46 L570.34 287.69 L568.34 286.95 L566.34 286.21 L564.33 285.50 L562.33 284.81 L560.32 284.16 L558.32 283.54 L556.31 282.95 L554.30 282.42 L552.30 281.93 L550.30 281.43 L548.32 280.85 L546.33 280.20 L544.33 279.50 L542.32 278.82 L540.31 278.19 L538.29 277.67 L536.28 277.24 L534.27 276.86 L532.27 276.50 L530.27 276.14 L528.28 275.75 L526.28 275.34 L524.28 274.93 L522.28 274.52 L520.28 274.10 L518.28 273.69 L516.28 273.27 L514.28 272.84 L512.28 272.41 L510.28 271.98 L508.29 271.55 L506.29 271.11 L504.29 270.67 L502.29 270.23 L500.29 269.78 L498.29 269.34 L496.29 268.88 L494.29 268.42 L492.29 267.95 L490.29 267.47 L488.29 266.99 L486.30 266.50 L484.30 266.01 L482.30 265.51 L480.30 265.01 L478.30 264.50 L476.30 264.00 L474.30 263.49 L472.30 262.98 L470.30 262.48 L468.30 261.98 L466.30 261.48 L464.30 260.98 L462.30 260.49 L460.29 260.00 L458.29 259.52 L456.29 259.04 L454.29 258.58 L452.29 258.12 L450.29 257.67 L448.28 257.23 L446.28 256.81 L444.28 256.39 L442.28 255.97 L440.28 255.56 L438.28 255.16 L436.28 254.75 L434.28 254.36 L432.28 253.96 L430.28 253.57 L428.28 253.19 L426.27 252.80 L424.27 252.42 L422.27 252.05 L420.27 251.68 L418.27 251.31 L416.27 250.94 L414.27 250.58 L412.27 250.22 L410.27 249.86 L408.27 249.51 L406.27 249.16 L404.27 248.81 L402.27 248.46 L400.27 248.12 L398.27 247.78 L396.27 247.44 L394.27 247.11 L392.26 246.78 L390.26 246.45 L388.26 246.14 L386.26 245.82 L384.26 245.51 L382.26 245.21 L380.26 244.91 L378.26 244.61 L376.26 244.31 L374.26 244.02 L372.26 243.73 L370.26 243.43 L368.26 243.14 L366.26 242.85 L364.26 242.56 L362.26 242.27 L360.26 241.98 L358.26 241.69 L356.26 241.39 L354.26 241.09 L352.26 240.79 L350.26 240.48 L348.26 240.17 L346.26 239.86 L344.26 239.54 L342.26 239.22 L340.27 238.88 L338.27 238.54 L336.27 238.20 L334.27 237.84 L332.27 237.49 L330.27 237.13 L328.27 236.77 L326.27 236.42 L324.27 236.06 L322.27 235.71 L320.27 235.37 L318.27 235.03 L316.26 234.69 L314.26 234.37 L312.26 234.06 L310.26 233.76 L308.26 233.47 L306.26 233.18 L304.26 232.90 L302.25 232.63 L300.25 232.35 L298.25 232.08 L296.25 231.80 L294.26 231.53 L292.26 231.24 L290.26 230.96 L288.26 230.67 L286.26 230.39 L284.26 230.10 L282.26 229.82 L280.26 229.54 L278.26 229.25 L276.26 228.97 L274.26 228.68 L272.26 228.40 L270.26 228.11 L268.26 227.83 L266.26 227.54 L264.26 227.25 L262.26 226.96 L260.26 226.67 L258.26 226.38 L256.26 226.09 L254.26 225.79 L252.26 225.49 L250.26 225.19 L248.26 224.89 L246.26 224.59 L244.26 224.28 L242.26 223.97 L240.26 223.66 L238.26 223.35 L236.26 223.03 L234.26 222.71 L232.26 222.39 L230.26 222.07 L228.26 221.75 L226.26 221.42 L224.26 221.10 L222.27 220.77 L220.27 220.44 L218.27 220.10 L216.27 219.77 L214.27 219.43 L212.27 219.09 L210.27 218.75 L208.27 218.41 L206.27 218.06 L204.27 217.71 L202.27 217.36 L200.27 217.01 L198.27 216.66 L196.27 216.30 L194.27 215.94 L192.27 215.58 L190.27 215.22 L188.27 214.85 L186.27 214.48 L184.27 214.10 L182.27 213.72 L180.28 213.34 L178.28 212.96 L176.28 212.57 L174.28 212.18 L172.28 211.78 L170.28 211.38 L168.28 210.98 L166.28 210.58 L164.28 210.18 L162.28 209.77 L160.28 209.36 L158.28 208.95 L156.28 208.54 L154.28 208.13 L152.28 207.72 L150.28 207.31 L148.28 206.89 L146.28 206.48 L144.28 206.06 L142.28 205.65 L140.28 205.24 L138.28 204.83 L136.28 204.41 L134.28 204.00 L132.28 203.59 L130.28 203.18 L128.28 202.77 L126.28 202.36 L124.28 201.94 L122.28 201.52 L120.28 201.10 L118.28 200.67 L116.29 200.24 L114.29 199.80 L112.29 199.35 L110.30 198.88 L108.30 198.36 L106.31 197.82 L104.30 197.27 L102.30 196.75 L100.29 196.27 L98.27 195.85 L96.25 195.53 L94.24 195.29 L92.24 195.10 L90.23 194.93 L88.23 194.77 L86.60 194.63 L86.60 139.20Z" fill="#ffc337"/><path d="M85.80 139.20 L85.80 198.97 L88.17 199.15 L90.17 199.29 L92.17 199.44 L94.16 199.61 L96.15 199.82 L98.13 200.13 L100.11 200.55 L102.10 201.05 L104.09 201.59 L106.09 202.17 L108.09 202.73 L110.10 203.27 L112.11 203.73 L114.12 204.16 L116.12 204.57 L118.12 204.97 L120.12 205.36 L122.13 205.74 L124.13 206.12 L126.13 206.49 L128.13 206.86 L130.13 207.22 L132.13 207.59 L134.13 207.96 L136.13 208.33 L138.13 208.70 L140.13 209.08 L142.13 209.46 L144.13 209.83 L146.13 210.21 L148.13 210.59 L150.13 210.97 L152.13 211.35 L154.13 211.73 L156.13 212.11 L158.13 212.49 L160.13 212.86 L162.13 213.24 L164.13 213.61 L166.13 213.99 L168.13 214.36 L170.13 214.73 L172.13 215.10 L174.13 215.46 L176.13 215.82 L178.13 216.19 L180.13 216.54 L182.13 216.90 L184.13 217.25 L186.13 217.60 L188.13 217.95 L190.13 218.29 L192.13 218.63 L194.13 218.97 L196.13 219.30 L198.13 219.63 L200.13 219.96 L202.14 220.29 L204.14 220.62 L206.14 220.94 L208.14 221.27 L210.14 221.59 L212.14 221.91 L214.14 222.22 L216.14 222.54 L218.14 222.86 L220.14 223.17 L222.14 223.48 L224.14 223.79 L226.14 224.10 L228.14 224.41 L230.14 224.72 L232.14 225.03 L234.14 225.33 L236.14 225.64 L238.14 225.95 L240.14 226.25 L242.14 226.56 L244.14 226.86 L246.14 227.16 L248.14 227.45 L250.14 227.75 L252.14 228.04 L254.14 228.34 L256.14 228.63 L258.14 228.92 L260.14 229.21 L262.14 229.49 L264.14 229.78 L266.14 230.07 L268.14 230.36 L270.14 230.64 L272.14 230.93 L274.14 231.22 L276.14 231.50 L278.14 231.79 L280.14 232.08 L282.14 232.37 L284.14 232.66 L286.14 232.95 L288.14 233.25 L290.14 233.54 L292.14 233.84 L294.14 234.14 L296.14 234.44 L298.14 234.74 L300.14 235.04 L302.14 235.35 L304.14 235.65 L306.14 235.95 L308.14 236.25 L310.14 236.55 L312.14 236.85 L314.14 237.15 L316.14 237.44 L318.14 237.74 L320.14 238.03 L322.14 238.32 L324.14 238.61 L326.14 238.91 L328.14 239.20 L330.14 239.49 L332.14 239.78 L334.14 240.07 L336.14 240.36 L338.14 240.65 L340.14 240.94 L342.14 241.23 L344.14 241.52 L346.14 241.81 L348.14 242.10 L350.14 242.38 L352.14 242.67 L354.14 242.95 L356.14 243.23 L358.14 243.51 L360.14 243.79 L362.14 244.07 L364.14 244.35 L366.14 244.63 L368.14 244.91 L370.14 245.20 L372.14 245.48 L374.14 245.77 L376.14 246.06 L378.14 246.35 L380.14 246.64 L382.14 246.94 L384.14 247.24 L386.14 247.54 L388.14 247.85 L390.14 248.16 L392.14 248.48 L394.14 248.80 L396.14 249.13 L398.13 249.46 L400.13 249.79 L402.13 250.12 L404.13 250.46 L406.13 250.80 L408.13 251.15 L410.13 251.50 L412.13 251.85 L414.13 252.20 L416.13 252.56 L418.13 252.92 L420.13 253.29 L422.13 253.66 L424.13 254.03 L426.13 254.41 L428.12 254.79 L430.12 255.17 L432.12 255.56 L434.12 255.95 L436.12 256.35 L438.12 256.75 L440.12 257.15 L442.12 257.56 L444.12 257.97 L446.12 258.39 L448.12 258.82 L450.11 259.26 L452.11 259.71 L454.11 260.17 L456.11 260.64 L458.11 261.13 L460.10 261.62 L462.10 262.11 L464.10 262.62 L466.10 263.13 L468.10 263.64 L470.10 264.15 L472.10 264.67 L474.10 265.18 L476.10 265.70 L478.10 266.21 L480.10 266.72 L482.10 267.23 L484.10 267.73 L486.10 268.23 L488.11 268.72 L490.11 269.20 L492.11 269.67 L494.11 270.13 L496.11 270.58 L498.12 271.01 L500.12 271.44 L502.12 271.87 L504.12 272.29 L506.12 272.70 L508.12 273.11 L510.12 273.52 L512.12 273.92 L514.12 274.32 L516.12 274.71 L518.12 275.09 L520.13 275.47 L522.13 275.85 L524.13 276.22 L526.13 276.58 L528.13 276.94 L530.14 277.28 L532.14 277.59 L534.14 277.89 L536.13 278.21 L538.12 278.57 L540.10 279.01 L542.09 279.55 L544.08 280.14 L546.08 280.76 L548.09 281.35 L550.10 281.89 L552.11 282.38 L554.10 282.86 L556.09 283.38 L558.09 283.96 L560.08 284.57 L562.07 285.21 L564.07 285.88 L566.06 286.59 L568.06 287.32 L570.06 288.06 L572.05 288.82 L574.05 289.63 L576.04 290.45 L578.03 291.33 L580.00 292.32 L581.98 293.55 L583.97 294.95 L585.97 296.38 L587.96 297.84 L589.76 299.21 L590.15 299.51 L590.55 299.82 L590.95 300.14 L591.35 300.46 L591.75 300.78 L592.15 301.11 L592.55 301.44 L592.94 301.77 L593.34 302.10 L593.73 302.44 L594.13 302.80 L594.52 303.17 L594.91 303.57 L595.30 304.00 L595.69 304.45 L596.08 304.94 L596.48 305.46 L596.87 306.01 L597.26 306.58 L597.64 307.25 L598.02 308.16 L598.41 309.50 L598.81 311.34 L599.21 314.58 L600.07 315.86 L600.73 315.41 L599.99 314.29 L599.59 311.20 L599.19 309.31 L598.78 307.90 L598.36 306.90 L597.94 306.15 L597.53 305.55 L597.12 304.98 L596.72 304.44 L596.31 303.94 L595.90 303.47 L595.49 303.02 L595.08 302.61 L594.67 302.21 L594.27 301.84 L593.86 301.49 L593.46 301.15 L593.05 300.82 L592.65 300.49 L592.25 300.16 L591.85 299.83 L591.45 299.51 L591.05 299.19 L590.65 298.88 L590.24 298.57 L588.44 297.20 L586.43 295.74 L584.43 294.29 L582.42 292.88 L580.40 291.62 L578.37 290.60 L576.36 289.72 L574.35 288.89 L572.35 288.08 L570.34 287.31 L568.34 286.57 L566.34 285.84 L564.33 285.13 L562.33 284.45 L560.32 283.80 L558.31 283.19 L556.31 282.61 L554.30 282.09 L552.29 281.60 L550.30 281.12 L548.31 280.58 L546.32 279.99 L544.32 279.38 L542.31 278.78 L540.30 278.24 L538.28 277.79 L536.27 277.42 L534.26 277.10 L532.26 276.80 L530.26 276.49 L528.27 276.15 L526.27 275.79 L524.27 275.43 L522.27 275.06 L520.27 274.69 L518.28 274.31 L516.28 273.92 L514.28 273.53 L512.28 273.13 L510.28 272.73 L508.28 272.33 L506.28 271.92 L504.28 271.50 L502.28 271.08 L500.28 270.66 L498.28 270.23 L496.29 269.79 L494.29 269.35 L492.29 268.89 L490.29 268.42 L488.29 267.94 L486.30 267.45 L484.30 266.96 L482.30 266.46 L480.30 265.95 L478.30 265.44 L476.30 264.92 L474.30 264.41 L472.30 263.89 L470.30 263.38 L468.30 262.86 L466.30 262.35 L464.30 261.84 L462.30 261.34 L460.30 260.84 L458.29 260.35 L456.29 259.87 L454.29 259.39 L452.29 258.93 L450.29 258.47 L448.28 258.03 L446.28 257.61 L444.28 257.19 L442.28 256.78 L440.28 256.37 L438.28 255.96 L436.28 255.56 L434.28 255.16 L432.28 254.77 L430.28 254.38 L428.28 254.00 L426.27 253.62 L424.27 253.24 L422.27 252.87 L420.27 252.50 L418.27 252.14 L416.27 251.77 L414.27 251.41 L412.27 251.06 L410.27 250.71 L408.27 250.36 L406.27 250.02 L404.27 249.67 L402.27 249.34 L400.27 249.00 L398.27 248.67 L396.26 248.34 L394.26 248.01 L392.26 247.69 L390.26 247.37 L388.26 247.06 L386.26 246.75 L384.26 246.45 L382.26 246.15 L380.26 245.85 L378.26 245.56 L376.26 245.26 L374.26 244.98 L372.26 244.69 L370.26 244.40 L368.26 244.12 L366.26 243.84 L364.26 243.56 L362.26 243.28 L360.26 243.00 L358.26 242.72 L356.26 242.44 L354.26 242.16 L352.26 241.87 L350.26 241.59 L348.26 241.30 L346.26 241.02 L344.26 240.73 L342.26 240.44 L340.26 240.15 L338.26 239.85 L336.26 239.56 L334.26 239.27 L332.26 238.98 L330.26 238.69 L328.26 238.40 L326.26 238.11 L324.26 237.82 L322.26 237.53 L320.26 237.24 L318.26 236.95 L316.26 236.65 L314.26 236.36 L312.26 236.06 L310.26 235.76 L308.26 235.46 L306.26 235.16 L304.26 234.86 L302.26 234.55 L300.26 234.25 L298.26 233.95 L296.26 233.65 L294.26 233.34 L292.26 233.05 L290.26 232.75 L288.26 232.45 L286.26 232.16 L284.26 231.87 L282.26 231.58 L280.26 231.29 L278.26 231.00 L276.26 230.71 L274.26 230.43 L272.26 230.14 L270.26 229.85 L268.26 229.56 L266.26 229.28 L264.26 228.99 L262.26 228.70 L260.26 228.41 L258.26 228.13 L256.26 227.84 L254.26 227.54 L252.26 227.25 L250.26 226.96 L248.26 226.66 L246.26 226.36 L244.26 226.07 L242.26 225.76 L240.26 225.46 L238.26 225.16 L236.26 224.85 L234.26 224.54 L232.26 224.24 L230.26 223.93 L228.26 223.62 L226.26 223.31 L224.26 223.00 L222.26 222.69 L220.26 222.38 L218.26 222.07 L216.26 221.75 L214.26 221.43 L212.26 221.12 L210.26 220.80 L208.26 220.48 L206.26 220.15 L204.26 219.83 L202.26 219.50 L200.27 219.17 L198.27 218.84 L196.27 218.51 L194.27 218.18 L192.27 217.84 L190.27 217.50 L188.27 217.16 L186.27 216.81 L184.27 216.46 L182.27 216.11 L180.27 215.76 L178.27 215.40 L176.27 215.04 L174.27 214.67 L172.27 214.31 L170.27 213.94 L168.27 213.57 L166.27 213.20 L164.27 212.83 L162.27 212.45 L160.27 212.08 L158.27 211.70 L156.27 211.32 L154.27 210.94 L152.27 210.56 L150.27 210.19 L148.27 209.81 L146.27 209.43 L144.27 209.05 L142.27 208.67 L140.27 208.29 L138.27 207.91 L136.27 207.54 L134.27 207.17 L132.27 206.80 L130.27 206.44 L128.27 206.07 L126.27 205.70 L124.27 205.33 L122.27 204.96 L120.28 204.58 L118.28 204.19 L116.28 203.79 L114.28 203.38 L112.29 202.95 L110.30 202.49 L108.31 201.96 L106.31 201.40 L104.31 200.82 L102.30 200.27 L100.29 199.77 L98.27 199.34 L96.25 199.03 L94.24 198.81 L92.23 198.64 L90.23 198.49 L88.23 198.35 L86.60 198.23 L86.60 139.20Z" fill="#f6db23"/><path d="M85.80 139.20 L85.80 202.16 L88.15 202.43 L90.16 202.65 L92.15 202.88 L94.15 203.13 L96.13 203.43 L98.12 203.80 L100.11 204.25 L102.10 204.75 L104.09 205.29 L106.10 205.84 L108.10 206.38 L110.11 206.88 L112.12 207.33 L114.12 207.74 L116.12 208.13 L118.13 208.51 L120.13 208.88 L122.13 209.24 L124.13 209.59 L126.13 209.93 L128.13 210.27 L130.13 210.61 L132.13 210.95 L134.13 211.30 L136.13 211.64 L138.13 212.00 L140.13 212.35 L142.13 212.71 L144.13 213.07 L146.13 213.43 L148.13 213.80 L150.13 214.16 L152.13 214.52 L154.13 214.89 L156.13 215.25 L158.13 215.61 L160.13 215.98 L162.13 216.34 L164.13 216.70 L166.13 217.05 L168.13 217.41 L170.13 217.76 L172.13 218.11 L174.13 218.46 L176.13 218.80 L178.13 219.14 L180.13 219.47 L182.14 219.80 L184.14 220.13 L186.14 220.45 L188.14 220.76 L190.14 221.07 L192.14 221.37 L194.14 221.67 L196.14 221.97 L198.14 222.25 L200.14 222.54 L202.14 222.82 L204.15 223.10 L206.15 223.38 L208.15 223.65 L210.15 223.92 L212.15 224.19 L214.15 224.46 L216.15 224.72 L218.15 224.99 L220.15 225.25 L222.15 225.52 L224.15 225.78 L226.15 226.05 L228.15 226.32 L230.15 226.58 L232.15 226.85 L234.15 227.13 L236.15 227.40 L238.14 227.68 L240.14 227.96 L242.14 228.24 L244.14 228.52 L246.14 228.80 L248.14 229.08 L250.14 229.35 L252.14 229.63 L254.14 229.91 L256.14 230.19 L258.14 230.47 L260.14 230.74 L262.14 231.02 L264.14 231.31 L266.14 231.59 L268.14 231.87 L270.14 232.15 L272.14 232.44 L274.14 232.73 L276.14 233.02 L278.14 233.31 L280.14 233.61 L282.14 233.90 L284.14 234.20 L286.14 234.51 L288.14 234.81 L290.14 235.13 L292.14 235.44 L294.13 235.77 L296.13 236.10 L298.13 236.45 L300.13 236.81 L302.13 237.17 L304.13 237.52 L306.13 237.87 L308.13 238.21 L310.14 238.54 L312.14 238.85 L314.14 239.15 L316.14 239.43 L318.15 239.71 L320.15 239.97 L322.15 240.24 L324.15 240.49 L326.15 240.74 L328.15 240.99 L330.15 241.24 L332.15 241.49 L334.15 241.73 L336.15 241.98 L338.15 242.23 L340.15 242.49 L342.15 242.75 L344.15 243.01 L346.15 243.27 L348.15 243.53 L350.15 243.79 L352.15 244.05 L354.15 244.31 L356.15 244.57 L358.15 244.83 L360.15 245.09 L362.15 245.35 L364.15 245.61 L366.15 245.87 L368.15 246.13 L370.15 246.40 L372.15 246.66 L374.15 246.93 L376.15 247.20 L378.15 247.47 L380.14 247.75 L382.14 248.03 L384.14 248.32 L386.14 248.61 L388.14 248.90 L390.14 249.20 L392.14 249.50 L394.14 249.81 L396.14 250.12 L398.14 250.43 L400.14 250.76 L402.14 251.08 L404.13 251.41 L406.13 251.75 L408.13 252.08 L410.13 252.43 L412.13 252.77 L414.13 253.12 L416.13 253.48 L418.13 253.84 L420.13 254.20 L422.13 254.57 L424.13 254.94 L426.13 255.32 L428.13 255.69 L430.12 256.08 L432.12 256.47 L434.12 256.86 L436.12 257.25 L438.12 257.65 L440.12 258.06 L442.12 258.46 L444.12 258.87 L446.12 259.29 L448.12 259.71 L450.11 260.15 L452.11 260.61 L454.11 261.07 L456.11 261.55 L458.10 262.04 L460.10 262.54 L462.10 263.04 L464.10 263.55 L466.10 264.07 L468.10 264.59 L470.10 265.11 L472.10 265.63 L474.10 266.15 L476.10 266.67 L478.10 267.19 L480.10 267.70 L482.10 268.21 L484.10 268.71 L486.11 269.20 L488.11 269.68 L490.11 270.16 L492.11 270.61 L494.11 271.06 L496.12 271.49 L498.12 271.91 L500.12 272.31 L502.12 272.71 L504.12 273.10 L506.12 273.49 L508.13 273.87 L510.13 274.25 L512.13 274.61 L514.13 274.98 L516.13 275.33 L518.13 275.68 L520.13 276.03 L522.13 276.37 L524.13 276.70 L526.14 277.03 L528.14 277.35 L530.14 277.65 L532.15 277.93 L534.15 278.19 L536.14 278.48 L538.13 278.79 L540.12 279.17 L542.11 279.60 L544.10 280.09 L546.10 280.59 L548.10 281.10 L550.11 281.58 L552.11 282.05 L554.10 282.53 L556.10 283.04 L558.09 283.60 L560.08 284.21 L562.08 284.85 L564.07 285.52 L566.06 286.22 L568.06 286.95 L570.06 287.69 L572.05 288.45 L574.05 289.25 L576.04 290.08 L578.03 290.96 L580.00 291.96 L581.98 293.19 L583.97 294.61 L585.96 296.07 L587.96 297.54 L589.76 298.92 L590.15 299.23 L590.55 299.54 L590.95 299.86 L591.35 300.18 L591.75 300.51 L592.15 300.84 L592.55 301.16 L592.95 301.49 L593.34 301.82 L593.74 302.16 L594.13 302.51 L594.52 302.89 L594.91 303.28 L595.30 303.71 L595.69 304.16 L596.09 304.64 L596.48 305.16 L596.87 305.71 L597.26 306.27 L597.64 306.94 L598.02 307.86 L598.41 309.21 L598.81 311.07 L599.20 314.23 L599.20 353.00 L600.00 353.00 L600.00 314.18 L599.59 310.93 L599.19 309.01 L598.78 307.59 L598.36 306.59 L597.94 305.85 L597.53 305.25 L597.12 304.68 L596.71 304.15 L596.31 303.64 L595.90 303.17 L595.49 302.73 L595.08 302.31 L594.67 301.93 L594.26 301.56 L593.86 301.21 L593.45 300.87 L593.05 300.54 L592.65 300.22 L592.25 299.89 L591.85 299.56 L591.45 299.24 L591.05 298.91 L590.65 298.60 L590.24 298.28 L588.44 296.90 L586.44 295.42 L584.43 293.96 L582.42 292.53 L580.40 291.26 L578.37 290.23 L576.36 289.34 L574.35 288.51 L572.35 287.70 L570.34 286.94 L568.34 286.20 L566.34 285.47 L564.33 284.76 L562.32 284.08 L560.32 283.45 L558.31 282.84 L556.30 282.27 L554.30 281.75 L552.29 281.27 L550.29 280.80 L548.30 280.32 L546.30 279.82 L544.30 279.31 L542.29 278.82 L540.28 278.38 L538.27 278.00 L536.26 277.68 L534.25 277.40 L532.25 277.13 L530.26 276.86 L528.26 276.56 L526.26 276.24 L524.27 275.91 L522.27 275.58 L520.27 275.24 L518.27 274.90 L516.27 274.55 L514.27 274.19 L512.27 273.83 L510.27 273.46 L508.27 273.09 L506.28 272.71 L504.28 272.32 L502.28 271.93 L500.28 271.53 L498.28 271.12 L496.28 270.71 L494.29 270.28 L492.29 269.83 L490.29 269.38 L488.29 268.91 L486.29 268.42 L484.30 267.93 L482.30 267.43 L480.30 266.93 L478.30 266.41 L476.30 265.90 L474.30 265.38 L472.30 264.86 L470.30 264.33 L468.30 263.81 L466.30 263.29 L464.30 262.78 L462.30 262.27 L460.30 261.76 L458.30 261.26 L456.29 260.78 L454.29 260.30 L452.29 259.83 L450.29 259.37 L448.28 258.93 L446.28 258.51 L444.28 258.09 L442.28 257.68 L440.28 257.27 L438.28 256.87 L436.28 256.47 L434.28 256.07 L432.28 255.68 L430.28 255.29 L428.27 254.91 L426.27 254.53 L424.27 254.15 L422.27 253.78 L420.27 253.41 L418.27 253.05 L416.27 252.69 L414.27 252.34 L412.27 251.99 L410.27 251.64 L408.27 251.30 L406.27 250.96 L404.27 250.62 L402.26 250.29 L400.26 249.97 L398.26 249.64 L396.26 249.33 L394.26 249.01 L392.26 248.71 L390.26 248.40 L388.26 248.11 L386.26 247.81 L384.26 247.52 L382.26 247.24 L380.26 246.96 L378.25 246.68 L376.25 246.41 L374.25 246.14 L372.25 245.87 L370.25 245.60 L368.25 245.34 L366.25 245.08 L364.25 244.81 L362.25 244.55 L360.25 244.30 L358.25 244.04 L356.25 243.78 L354.25 243.52 L352.25 243.26 L350.25 243.00 L348.25 242.74 L346.25 242.48 L344.25 242.22 L342.25 241.95 L340.25 241.69 L338.25 241.44 L336.25 241.19 L334.25 240.94 L332.25 240.69 L330.25 240.45 L328.25 240.20 L326.25 239.95 L324.25 239.70 L322.25 239.44 L320.25 239.18 L318.25 238.91 L316.26 238.64 L314.26 238.35 L312.26 238.06 L310.26 237.75 L308.27 237.42 L306.27 237.08 L304.27 236.73 L302.27 236.38 L300.27 236.02 L298.27 235.67 L296.27 235.32 L294.27 234.98 L292.26 234.65 L290.26 234.33 L288.26 234.02 L286.26 233.72 L284.26 233.41 L282.26 233.11 L280.26 232.81 L278.26 232.52 L276.26 232.23 L274.26 231.94 L272.26 231.65 L270.26 231.36 L268.26 231.08 L266.26 230.79 L264.26 230.51 L262.26 230.23 L260.26 229.95 L258.26 229.67 L256.26 229.40 L254.26 229.12 L252.26 228.84 L250.26 228.56 L248.26 228.28 L246.26 228.00 L244.26 227.72 L242.26 227.44 L240.26 227.16 L238.26 226.88 L236.25 226.61 L234.25 226.33 L232.25 226.06 L230.25 225.79 L228.25 225.52 L226.25 225.26 L224.25 224.99 L222.25 224.73 L220.25 224.46 L218.25 224.20 L216.25 223.93 L214.25 223.66 L212.25 223.40 L210.25 223.13 L208.25 222.86 L206.25 222.58 L204.25 222.31 L202.26 222.03 L200.26 221.75 L198.26 221.46 L196.26 221.17 L194.26 220.88 L192.26 220.58 L190.26 220.28 L188.26 219.97 L186.26 219.66 L184.26 219.34 L182.26 219.01 L180.27 218.68 L178.27 218.35 L176.27 218.01 L174.27 217.67 L172.27 217.32 L170.27 216.97 L168.27 216.62 L166.27 216.27 L164.27 215.91 L162.27 215.55 L160.27 215.19 L158.27 214.83 L156.27 214.46 L154.27 214.10 L152.27 213.74 L150.27 213.37 L148.27 213.01 L146.27 212.65 L144.27 212.28 L142.27 211.92 L140.27 211.56 L138.27 211.21 L136.27 210.85 L134.27 210.51 L132.27 210.16 L130.27 209.83 L128.27 209.49 L126.27 209.15 L124.27 208.80 L122.27 208.45 L120.27 208.09 L118.27 207.73 L116.28 207.35 L114.28 206.96 L112.28 206.55 L110.29 206.11 L108.30 205.60 L106.30 205.07 L104.31 204.52 L102.30 203.98 L100.29 203.47 L98.28 203.01 L96.27 202.64 L94.25 202.34 L92.25 202.09 L90.24 201.86 L88.25 201.64 L86.60 201.44 L86.60 139.20Z" fill="#f9fb0e"/></g>
<g shape-rendering="crispEdges"><rect x="600" y="318" width="1" height="34.2" fill="#0268e1"/><rect x="600" y="352.2" width="1" height="6.4" fill="#65be86"/><rect x="600" y="358.6" width="1" height="23.1" fill="#f9fb0e"/><rect x="599" y="353" width="1" height="12" fill="#f9fb0e" fill-opacity="0.25"/></g>
<g stroke="#000" stroke-width="2" stroke-dasharray="7.5 7.65" fill="none"><line x1="86.20" y1="159.08" x2="600.50" y2="159.08"/><line x1="86.20" y1="240.00" x2="600.50" y2="240.00"/><line x1="86.20" y1="341.15" x2="600.50" y2="341.15"/></g>
<g stroke="#262626" stroke-width="1" fill="none"><line x1="86.5" y1="37.30" x2="86.5" y2="442.80"/><line x1="86" y1="442.30" x2="601.00" y2="442.30"/><line x1="86.50" y1="442.30" x2="86.50" y2="437.10"/><line x1="137.50" y1="442.30" x2="137.50" y2="437.10"/><line x1="189.50" y1="442.30" x2="189.50" y2="437.10"/><line x1="240.50" y1="442.30" x2="240.50" y2="437.10"/><line x1="291.50" y1="442.30" x2="291.50" y2="437.10"/><line x1="343.50" y1="442.30" x2="343.50" y2="437.10"/><line x1="394.50" y1="442.30" x2="394.50" y2="437.10"/><line x1="446.50" y1="442.30" x2="446.50" y2="437.10"/><line x1="497.50" y1="442.30" x2="497.50" y2="437.10"/><line x1="549.50" y1="442.30" x2="549.50" y2="437.10"/><line x1="600.50" y1="442.30" x2="600.50" y2="437.10"/><line x1="86.20" y1="442.50" x2="92.00" y2="442.50"/><line x1="86.20" y1="374.50" x2="92.00" y2="374.50"/><line x1="86.20" y1="307.50" x2="92.00" y2="307.50"/><line x1="86.20" y1="240.50" x2="92.00" y2="240.50"/><line x1="86.20" y1="172.50" x2="92.00" y2="172.50"/><line x1="86.20" y1="105.50" x2="92.00" y2="105.50"/><line x1="86.20" y1="37.80" x2="92.00" y2="37.80"/></g>
<line x1="86.6" y1="139.2" x2="86.6" y2="201.8" stroke="#f9fb0e" stroke-width="1"/>
<g font-family="'Liberation Sans', Arial, Helvetica, sans-serif" font-size="15.2" fill="#262626"><text x="86.50" y="464.2" text-anchor="middle">0</text><text x="137.93" y="464.2" text-anchor="middle">10</text><text x="189.36" y="464.2" text-anchor="middle">20</text><text x="240.79" y="464.2" text-anchor="middle">30</text><text x="292.22" y="464.2" text-anchor="middle">40</text><text x="343.65" y="464.2" text-anchor="middle">50</text><text x="395.08" y="464.2" text-anchor="middle">60</text><text x="446.51" y="464.2" text-anchor="middle">70</text><text x="497.94" y="464.2" text-anchor="middle">80</text><text x="549.37" y="464.2" text-anchor="middle">90</text><text x="600.80" y="464.2" text-anchor="middle">100</text><text x="78.6" y="448.10" text-anchor="end">-3</text><text x="78.6" y="380.67" text-anchor="end">-2</text><text x="78.6" y="313.23" text-anchor="end">-1</text><text x="78.6" y="245.80" text-anchor="end">0</text><text x="78.6" y="178.37" text-anchor="end">1</text><text x="78.6" y="110.93" text-anchor="end">2</text><text x="78.6" y="43.50" text-anchor="end">3</text><text x="594.6" y="151.5" text-anchor="end" fill="#000" font-size="15.3" letter-spacing="0.4">MHW</text><text x="594.4" y="232.3" text-anchor="end" fill="#000" font-size="15.3" letter-spacing="0.4">MSL</text><text x="594.6" y="334.3" text-anchor="end" fill="#000" font-size="15.3" letter-spacing="0.4">MLW</text></g>
<text x="342.7" y="27.9" text-anchor="middle" font-family="'Liberation Sans', Arial, sans-serif" font-weight="bold" font-size="25.1" fill="#000">Hypsometry</text>
<text x="342.65" y="491.8" text-anchor="middle" font-family="'Liberation Sans', Arial, sans-serif" font-size="20.4" fill="#262626">Percentage of Area [%]</text>
<text transform="translate(56 240) rotate(-90)" text-anchor="middle" font-family="'Liberation Sans', Arial, sans-serif" font-size="20.4" fill="#262626">Elevation [m]</text>
</svg>
</body></html>
